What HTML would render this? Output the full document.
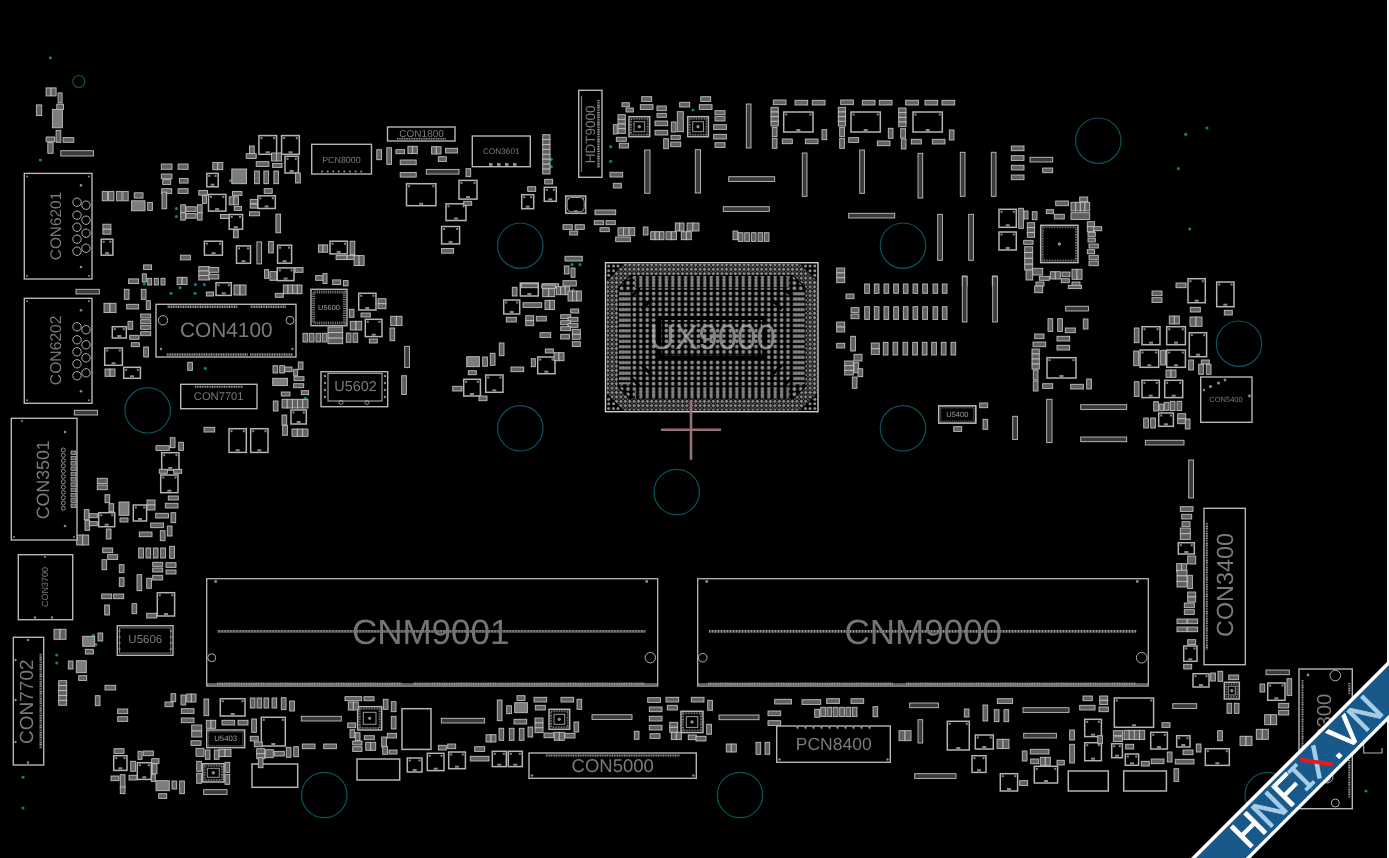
<!DOCTYPE html>
<html><head><meta charset="utf-8"><title>Boardview</title>
<style>
html,body{margin:0;padding:0;background:#000;overflow:hidden}
svg{display:block;font-family:"Liberation Sans",sans-serif;text-rendering:geometricPrecision}
</style></head>
<body>
<svg width="1389" height="858" viewBox="0 0 1389 858">
<rect width="1389" height="858" fill="#000"/>
<defs><filter id="nf" x="0" y="0" width="1389" height="858" filterUnits="userSpaceOnUse" color-interpolation-filters="sRGB"><feOffset dx="0" dy="0"/></filter></defs>
<g filter="url(#nf)">
<g fill="none" stroke="#0a545c" stroke-width="1.2">
<circle cx="78.8" cy="81.5" r="6"/>
<circle cx="520.3" cy="245.7" r="22.7"/>
<circle cx="903" cy="245.7" r="22.7"/>
<circle cx="1098.3" cy="140.7" r="22.7"/>
<circle cx="147.7" cy="410.3" r="22.7"/>
<circle cx="520.3" cy="428.3" r="22.7"/>
<circle cx="676.7" cy="492" r="22.7"/>
<circle cx="903" cy="428.3" r="22.7"/>
<circle cx="1239" cy="343.7" r="22.7"/>
<circle cx="324.3" cy="795" r="22.7"/>
<circle cx="740" cy="795" r="22.7"/>
<circle cx="1267.7" cy="795" r="22.7"/>
</g>
<g fill="#0b7f88">
<circle cx="50.4" cy="57.8" r="1.6"/>
<circle cx="40.4" cy="160" r="1.6"/>
<circle cx="230.5" cy="180.7" r="1.6"/>
<circle cx="176.4" cy="208.5" r="1.6"/>
<circle cx="176.4" cy="216.5" r="1.6"/>
<circle cx="144.3" cy="283.9" r="1.6"/>
<circle cx="195.4" cy="284.6" r="1.6"/>
<circle cx="204.4" cy="284.6" r="1.6"/>
<circle cx="551.3" cy="159.3" r="1.6"/>
<circle cx="551.3" cy="166.7" r="1.6"/>
<circle cx="610.7" cy="146.7" r="1.6"/>
<circle cx="610.7" cy="161.3" r="1.6"/>
<circle cx="572" cy="264.7" r="1.6"/>
<circle cx="580" cy="264.7" r="1.6"/>
<circle cx="693" cy="110" r="1.6"/>
<circle cx="1185.7" cy="134.3" r="1.6"/>
<circle cx="1207" cy="128" r="1.6"/>
<circle cx="1178.3" cy="168.7" r="1.6"/>
<circle cx="1189.7" cy="229" r="1.6"/>
<circle cx="205.3" cy="368.3" r="1.6"/>
<circle cx="171" cy="293.3" r="1.6"/>
<circle cx="180" cy="287.7" r="1.6"/>
<circle cx="195" cy="293.3" r="1.6"/>
<circle cx="305.3" cy="398.3" r="1.6"/>
<circle cx="573" cy="290" r="1.6"/>
<circle cx="93.3" cy="635.3" r="1.6"/>
<circle cx="96" cy="644.7" r="1.6"/>
<circle cx="56.7" cy="655" r="1.6"/>
<circle cx="56.7" cy="663" r="1.6"/>
<circle cx="23" cy="777.3" r="1.6"/>
<circle cx="23" cy="808" r="1.6"/>
<circle cx="1366" cy="791" r="1.6"/>
</g>
<g fill="#000" stroke="#b4b4b4" stroke-width="1.5">
<rect x="101.2" y="239.2" width="11.7" height="16"/>
<rect x="206.8" y="173.4" width="11.4" height="13.4"/>
<rect x="258.9" y="135.6" width="17.7" height="18.7"/>
<rect x="281.6" y="135.6" width="17.7" height="18.7"/>
<rect x="285" y="156.3" width="13.4" height="16.7"/>
<rect x="208.5" y="194.4" width="17.4" height="16.7"/>
<rect x="257.9" y="195.8" width="17.4" height="12.7"/>
<rect x="229.2" y="214.5" width="13.4" height="14.7"/>
<rect x="204.4" y="241.2" width="18" height="14"/>
<rect x="236.5" y="245.9" width="14" height="17.4"/>
<rect x="277.6" y="245.2" width="14" height="18"/>
<rect x="330" y="241.2" width="17.4" height="12.7"/>
<rect x="277.3" y="267.9" width="16.7" height="12.7"/>
<rect x="406.5" y="183.7" width="29.4" height="22"/>
<rect x="446" y="203.8" width="20" height="16.7"/>
<rect x="441.6" y="226.5" width="18" height="17.4"/>
<rect x="459" y="180.4" width="18" height="18.7"/>
<rect x="544.3" y="187.3" width="12" height="14"/>
<rect x="521.7" y="194.7" width="12" height="14"/>
<rect x="565.7" y="196" width="20" height="17.3"/>
<rect x="629" y="116.7" width="20.7" height="20"/>
<rect x="687.7" y="116.7" width="20.7" height="20"/>
<rect x="783.7" y="112" width="29.3" height="20"/>
<rect x="851" y="112" width="29.3" height="20"/>
<rect x="913" y="112" width="29.3" height="20"/>
<rect x="999" y="209.3" width="17.3" height="18"/>
<rect x="999" y="232" width="17.3" height="18"/>
<rect x="1040.7" y="225.3" width="37.3" height="37.3"/>
<rect x="112.3" y="326.7" width="14" height="11.3"/>
<rect x="104.7" y="348" width="17.7" height="17.3"/>
<rect x="123.7" y="367.3" width="16.7" height="11"/>
<rect x="229" y="428.7" width="17.3" height="23.7"/>
<rect x="250.7" y="428.7" width="17.3" height="23.7"/>
<rect x="216" y="282.7" width="15.3" height="12.7"/>
<rect x="358.7" y="293.3" width="17.3" height="16.7"/>
<rect x="365.3" y="319.3" width="16.7" height="17.3"/>
<rect x="291" y="410" width="15.3" height="14"/>
<rect x="161.7" y="452.7" width="17.3" height="17.3"/>
<rect x="160.7" y="475" width="17.3" height="17.7"/>
<rect x="133.3" y="505" width="13.3" height="16"/>
<rect x="98.7" y="512.7" width="16" height="14"/>
<rect x="520.3" y="283" width="18" height="13"/>
<rect x="503.7" y="300" width="16" height="14"/>
<rect x="537.7" y="357" width="17.3" height="16.7"/>
<rect x="485.7" y="375" width="17.3" height="17.3"/>
<rect x="463.7" y="379.3" width="16.7" height="16.7"/>
<rect x="1047" y="357.7" width="29" height="20.3"/>
<rect x="938.7" y="406" width="37" height="17"/>
<rect x="1188" y="278.7" width="17.3" height="24"/>
<rect x="1216.7" y="282" width="17.3" height="24.7"/>
<rect x="1142" y="326.7" width="18" height="18"/>
<rect x="1166.7" y="326.7" width="18.7" height="18"/>
<rect x="1189.3" y="332.7" width="17.3" height="24"/>
<rect x="1140" y="350" width="18.7" height="17.3"/>
<rect x="1166.7" y="350" width="18.7" height="17.3"/>
<rect x="1142" y="380.3" width="17.3" height="17.3"/>
<rect x="1164.7" y="380.3" width="18" height="17.3"/>
<rect x="1158.7" y="413" width="14.7" height="13.3"/>
<rect x="1178.3" y="542.7" width="16" height="11.3"/>
<rect x="157.3" y="592.7" width="17.3" height="23.3"/>
<rect x="220.3" y="698.7" width="24.7" height="17.3"/>
<rect x="202.7" y="763.7" width="21.3" height="18.3"/>
<rect x="261.3" y="717.3" width="24" height="28.7"/>
<rect x="252" y="764" width="45.7" height="23.3"/>
<rect x="357.7" y="706.7" width="24" height="23.3"/>
<rect x="402" y="708.7" width="29" height="40.7"/>
<rect x="357" y="759" width="42.7" height="21"/>
<rect x="407.3" y="758" width="14.7" height="14"/>
<rect x="427.3" y="753.3" width="16.7" height="17.3"/>
<rect x="448.7" y="752" width="16.7" height="16.7"/>
<rect x="113.7" y="755.7" width="13.3" height="14.7"/>
<rect x="137.3" y="762.7" width="14" height="16.7"/>
<rect x="549" y="709.3" width="20.7" height="20"/>
<rect x="492.3" y="751.3" width="14" height="15.3"/>
<rect x="508.3" y="751.3" width="14" height="15.3"/>
<rect x="681" y="711.3" width="22" height="21.3"/>
<rect x="947.3" y="721.3" width="22" height="28.7"/>
<rect x="975.3" y="735" width="18" height="14"/>
<rect x="972" y="755.7" width="14" height="16.7"/>
<rect x="1000.3" y="773.7" width="17.3" height="17.3"/>
<rect x="1034.3" y="766.3" width="23.3" height="16.7"/>
<rect x="1068.3" y="771" width="40" height="20"/>
<rect x="1084.7" y="719.3" width="16.7" height="17.3"/>
<rect x="1084.7" y="742.7" width="16.7" height="18"/>
<rect x="1114.3" y="698" width="39.3" height="29.3"/>
<rect x="1111.7" y="743.7" width="10.7" height="14"/>
<rect x="1125.3" y="754" width="13.3" height="11.3"/>
<rect x="1123.7" y="771" width="42.7" height="20"/>
<rect x="1150.7" y="732.3" width="16.7" height="16.7"/>
<rect x="1176.7" y="735.7" width="13.3" height="11.3"/>
<rect x="1205.3" y="748.7" width="24" height="16.7"/>
<rect x="1224.3" y="682.3" width="15" height="16.7"/>
<rect x="1193" y="673.7" width="16" height="13.3"/>
<rect x="1183.7" y="646" width="13.3" height="15.3"/>
<rect x="1267.7" y="683" width="17.3" height="17.3"/>
</g>
<g fill="#8a8a8a">
<rect x="105.1" y="252.2" width="4" height="2"/>
<rect x="102.7" y="240.7" width="2" height="2"/>
<rect x="109.4" y="240.7" width="2" height="2"/>
<rect x="210.5" y="183.7" width="4" height="2"/>
<rect x="208.3" y="174.9" width="2" height="2"/>
<rect x="214.6" y="174.9" width="2" height="2"/>
<rect x="265.7" y="151.3" width="4" height="2"/>
<rect x="260.4" y="137.1" width="2" height="2"/>
<rect x="273.1" y="137.1" width="2" height="2"/>
<rect x="288.5" y="151.3" width="4" height="2"/>
<rect x="283.1" y="137.1" width="2" height="2"/>
<rect x="295.8" y="137.1" width="2" height="2"/>
<rect x="289.6" y="170" width="4" height="2"/>
<rect x="286.5" y="157.8" width="2" height="2"/>
<rect x="294.8" y="157.8" width="2" height="2"/>
<rect x="215.1" y="208.1" width="4" height="2"/>
<rect x="210" y="195.9" width="2" height="2"/>
<rect x="222.3" y="195.9" width="2" height="2"/>
<rect x="264.6" y="205.5" width="4" height="2"/>
<rect x="259.4" y="197.3" width="2" height="2"/>
<rect x="271.8" y="197.3" width="2" height="2"/>
<rect x="233.8" y="226.2" width="4" height="2"/>
<rect x="230.7" y="216" width="2" height="2"/>
<rect x="239" y="216" width="2" height="2"/>
<rect x="211.5" y="252.2" width="4" height="2"/>
<rect x="205.9" y="242.7" width="2" height="2"/>
<rect x="219" y="242.7" width="2" height="2"/>
<rect x="241.5" y="260.2" width="4" height="2"/>
<rect x="238" y="247.4" width="2" height="2"/>
<rect x="247" y="247.4" width="2" height="2"/>
<rect x="282.6" y="260.2" width="4" height="2"/>
<rect x="279.1" y="246.7" width="2" height="2"/>
<rect x="288.1" y="246.7" width="2" height="2"/>
<rect x="336.7" y="250.9" width="4" height="2"/>
<rect x="331.5" y="242.7" width="2" height="2"/>
<rect x="343.9" y="242.7" width="2" height="2"/>
<rect x="283.6" y="277.6" width="4" height="2"/>
<rect x="278.8" y="269.4" width="2" height="2"/>
<rect x="290.5" y="269.4" width="2" height="2"/>
<rect x="419.2" y="202.8" width="4" height="2"/>
<rect x="408" y="185.2" width="2" height="2"/>
<rect x="432.4" y="185.2" width="2" height="2"/>
<rect x="454" y="217.5" width="4" height="2"/>
<rect x="447.5" y="205.3" width="2" height="2"/>
<rect x="462.5" y="205.3" width="2" height="2"/>
<rect x="448.6" y="240.9" width="4" height="2"/>
<rect x="443.1" y="228" width="2" height="2"/>
<rect x="456.2" y="228" width="2" height="2"/>
<rect x="466" y="196.1" width="4" height="2"/>
<rect x="460.5" y="181.9" width="2" height="2"/>
<rect x="473.5" y="181.9" width="2" height="2"/>
<rect x="548.3" y="198.3" width="4" height="2"/>
<rect x="545.8" y="188.8" width="2" height="2"/>
<rect x="552.8" y="188.8" width="2" height="2"/>
<rect x="525.7" y="205.7" width="4" height="2"/>
<rect x="523.2" y="196.2" width="2" height="2"/>
<rect x="530.2" y="196.2" width="2" height="2"/>
<rect x="573.7" y="210.3" width="4" height="2"/>
<rect x="567.2" y="197.5" width="2" height="2"/>
<rect x="582.2" y="197.5" width="2" height="2"/>
<rect x="796.3" y="129" width="4" height="2"/>
<rect x="785.2" y="113.5" width="2" height="2"/>
<rect x="809.5" y="113.5" width="2" height="2"/>
<rect x="863.7" y="129" width="4" height="2"/>
<rect x="852.5" y="113.5" width="2" height="2"/>
<rect x="876.8" y="113.5" width="2" height="2"/>
<rect x="925.7" y="129" width="4" height="2"/>
<rect x="914.5" y="113.5" width="2" height="2"/>
<rect x="938.8" y="113.5" width="2" height="2"/>
<rect x="1005.7" y="224.3" width="4" height="2"/>
<rect x="1000.5" y="210.8" width="2" height="2"/>
<rect x="1012.8" y="210.8" width="2" height="2"/>
<rect x="1005.7" y="247" width="4" height="2"/>
<rect x="1000.5" y="233.5" width="2" height="2"/>
<rect x="1012.8" y="233.5" width="2" height="2"/>
<rect x="117.3" y="335" width="4" height="2"/>
<rect x="113.8" y="328.2" width="2" height="2"/>
<rect x="122.8" y="328.2" width="2" height="2"/>
<rect x="111.5" y="362.3" width="4" height="2"/>
<rect x="106.2" y="349.5" width="2" height="2"/>
<rect x="118.8" y="349.5" width="2" height="2"/>
<rect x="130" y="375.3" width="4" height="2"/>
<rect x="125.2" y="368.8" width="2" height="2"/>
<rect x="136.8" y="368.8" width="2" height="2"/>
<rect x="235.7" y="449.3" width="4" height="2"/>
<rect x="230.5" y="430.2" width="2" height="2"/>
<rect x="242.8" y="430.2" width="2" height="2"/>
<rect x="257.3" y="449.3" width="4" height="2"/>
<rect x="252.2" y="430.2" width="2" height="2"/>
<rect x="264.5" y="430.2" width="2" height="2"/>
<rect x="221.7" y="292.3" width="4" height="2"/>
<rect x="217.5" y="284.2" width="2" height="2"/>
<rect x="227.8" y="284.2" width="2" height="2"/>
<rect x="365.3" y="307" width="4" height="2"/>
<rect x="360.2" y="294.8" width="2" height="2"/>
<rect x="372.5" y="294.8" width="2" height="2"/>
<rect x="371.7" y="333.7" width="4" height="2"/>
<rect x="366.8" y="320.8" width="2" height="2"/>
<rect x="378.5" y="320.8" width="2" height="2"/>
<rect x="296.7" y="421" width="4" height="2"/>
<rect x="292.5" y="411.5" width="2" height="2"/>
<rect x="302.8" y="411.5" width="2" height="2"/>
<rect x="168.3" y="467" width="4" height="2"/>
<rect x="163.2" y="454.2" width="2" height="2"/>
<rect x="175.5" y="454.2" width="2" height="2"/>
<rect x="167.3" y="489.7" width="4" height="2"/>
<rect x="162.2" y="476.5" width="2" height="2"/>
<rect x="174.5" y="476.5" width="2" height="2"/>
<rect x="138" y="518" width="4" height="2"/>
<rect x="134.8" y="506.5" width="2" height="2"/>
<rect x="143.2" y="506.5" width="2" height="2"/>
<rect x="104.7" y="523.7" width="4" height="2"/>
<rect x="100.2" y="514.2" width="2" height="2"/>
<rect x="111.2" y="514.2" width="2" height="2"/>
<rect x="527.3" y="293" width="4" height="2"/>
<rect x="521.8" y="284.5" width="2" height="2"/>
<rect x="534.8" y="284.5" width="2" height="2"/>
<rect x="509.7" y="311" width="4" height="2"/>
<rect x="505.2" y="301.5" width="2" height="2"/>
<rect x="516.2" y="301.5" width="2" height="2"/>
<rect x="544.3" y="370.7" width="4" height="2"/>
<rect x="539.2" y="358.5" width="2" height="2"/>
<rect x="551.5" y="358.5" width="2" height="2"/>
<rect x="492.3" y="389.3" width="4" height="2"/>
<rect x="487.2" y="376.5" width="2" height="2"/>
<rect x="499.5" y="376.5" width="2" height="2"/>
<rect x="470" y="393" width="4" height="2"/>
<rect x="465.2" y="380.8" width="2" height="2"/>
<rect x="476.8" y="380.8" width="2" height="2"/>
<rect x="1059.5" y="375" width="4" height="2"/>
<rect x="1048.5" y="359.2" width="2" height="2"/>
<rect x="1072.5" y="359.2" width="2" height="2"/>
<rect x="955.2" y="420" width="4" height="2"/>
<rect x="940.2" y="407.5" width="2" height="2"/>
<rect x="972.2" y="407.5" width="2" height="2"/>
<rect x="1194.7" y="299.7" width="4" height="2"/>
<rect x="1189.5" y="280.2" width="2" height="2"/>
<rect x="1201.8" y="280.2" width="2" height="2"/>
<rect x="1223.3" y="303.7" width="4" height="2"/>
<rect x="1218.2" y="283.5" width="2" height="2"/>
<rect x="1230.5" y="283.5" width="2" height="2"/>
<rect x="1149" y="341.7" width="4" height="2"/>
<rect x="1143.5" y="328.2" width="2" height="2"/>
<rect x="1156.5" y="328.2" width="2" height="2"/>
<rect x="1174" y="341.7" width="4" height="2"/>
<rect x="1168.2" y="328.2" width="2" height="2"/>
<rect x="1181.8" y="328.2" width="2" height="2"/>
<rect x="1196" y="353.7" width="4" height="2"/>
<rect x="1190.8" y="334.2" width="2" height="2"/>
<rect x="1203.2" y="334.2" width="2" height="2"/>
<rect x="1147.3" y="364.3" width="4" height="2"/>
<rect x="1141.5" y="351.5" width="2" height="2"/>
<rect x="1155.2" y="351.5" width="2" height="2"/>
<rect x="1174" y="364.3" width="4" height="2"/>
<rect x="1168.2" y="351.5" width="2" height="2"/>
<rect x="1181.8" y="351.5" width="2" height="2"/>
<rect x="1148.7" y="394.7" width="4" height="2"/>
<rect x="1143.5" y="381.8" width="2" height="2"/>
<rect x="1155.8" y="381.8" width="2" height="2"/>
<rect x="1171.7" y="394.7" width="4" height="2"/>
<rect x="1166.2" y="381.8" width="2" height="2"/>
<rect x="1179.2" y="381.8" width="2" height="2"/>
<rect x="1164" y="423.3" width="4" height="2"/>
<rect x="1160.2" y="414.5" width="2" height="2"/>
<rect x="1169.8" y="414.5" width="2" height="2"/>
<rect x="1184.3" y="551" width="4" height="2"/>
<rect x="1179.8" y="544.2" width="2" height="2"/>
<rect x="1190.8" y="544.2" width="2" height="2"/>
<rect x="164" y="613" width="4" height="2"/>
<rect x="158.8" y="594.2" width="2" height="2"/>
<rect x="171.2" y="594.2" width="2" height="2"/>
<rect x="230.7" y="713" width="4" height="2"/>
<rect x="221.8" y="700.2" width="2" height="2"/>
<rect x="241.5" y="700.2" width="2" height="2"/>
<rect x="271.3" y="743" width="4" height="2"/>
<rect x="262.8" y="718.8" width="2" height="2"/>
<rect x="281.8" y="718.8" width="2" height="2"/>
<rect x="412.7" y="769" width="4" height="2"/>
<rect x="408.8" y="759.5" width="2" height="2"/>
<rect x="418.5" y="759.5" width="2" height="2"/>
<rect x="433.7" y="767.7" width="4" height="2"/>
<rect x="428.8" y="754.8" width="2" height="2"/>
<rect x="440.5" y="754.8" width="2" height="2"/>
<rect x="455" y="765.7" width="4" height="2"/>
<rect x="450.2" y="753.5" width="2" height="2"/>
<rect x="461.8" y="753.5" width="2" height="2"/>
<rect x="118.3" y="767.3" width="4" height="2"/>
<rect x="115.2" y="757.2" width="2" height="2"/>
<rect x="123.5" y="757.2" width="2" height="2"/>
<rect x="142.3" y="776.3" width="4" height="2"/>
<rect x="138.8" y="764.2" width="2" height="2"/>
<rect x="147.8" y="764.2" width="2" height="2"/>
<rect x="497.3" y="763.7" width="4" height="2"/>
<rect x="493.8" y="752.8" width="2" height="2"/>
<rect x="502.8" y="752.8" width="2" height="2"/>
<rect x="513.3" y="763.7" width="4" height="2"/>
<rect x="509.8" y="752.8" width="2" height="2"/>
<rect x="518.8" y="752.8" width="2" height="2"/>
<rect x="956.3" y="747" width="4" height="2"/>
<rect x="948.8" y="722.8" width="2" height="2"/>
<rect x="965.8" y="722.8" width="2" height="2"/>
<rect x="982.3" y="746" width="4" height="2"/>
<rect x="976.8" y="736.5" width="2" height="2"/>
<rect x="989.8" y="736.5" width="2" height="2"/>
<rect x="977" y="769.3" width="4" height="2"/>
<rect x="973.5" y="757.2" width="2" height="2"/>
<rect x="982.5" y="757.2" width="2" height="2"/>
<rect x="1007" y="788" width="4" height="2"/>
<rect x="1001.8" y="775.2" width="2" height="2"/>
<rect x="1014.2" y="775.2" width="2" height="2"/>
<rect x="1044" y="780" width="4" height="2"/>
<rect x="1035.8" y="767.8" width="2" height="2"/>
<rect x="1054.2" y="767.8" width="2" height="2"/>
<rect x="1091" y="733.7" width="4" height="2"/>
<rect x="1086.2" y="720.8" width="2" height="2"/>
<rect x="1097.8" y="720.8" width="2" height="2"/>
<rect x="1091" y="757.7" width="4" height="2"/>
<rect x="1086.2" y="744.2" width="2" height="2"/>
<rect x="1097.8" y="744.2" width="2" height="2"/>
<rect x="1132" y="724.3" width="4" height="2"/>
<rect x="1115.8" y="699.5" width="2" height="2"/>
<rect x="1150.2" y="699.5" width="2" height="2"/>
<rect x="1115" y="754.7" width="4" height="2"/>
<rect x="1113.2" y="745.2" width="2" height="2"/>
<rect x="1118.8" y="745.2" width="2" height="2"/>
<rect x="1130" y="762.3" width="4" height="2"/>
<rect x="1126.8" y="755.5" width="2" height="2"/>
<rect x="1135.2" y="755.5" width="2" height="2"/>
<rect x="1157" y="746" width="4" height="2"/>
<rect x="1152.2" y="733.8" width="2" height="2"/>
<rect x="1163.8" y="733.8" width="2" height="2"/>
<rect x="1181.3" y="744" width="4" height="2"/>
<rect x="1178.2" y="737.2" width="2" height="2"/>
<rect x="1186.5" y="737.2" width="2" height="2"/>
<rect x="1215.3" y="762.3" width="4" height="2"/>
<rect x="1206.8" y="750.2" width="2" height="2"/>
<rect x="1225.8" y="750.2" width="2" height="2"/>
<rect x="1199" y="684" width="4" height="2"/>
<rect x="1194.5" y="675.2" width="2" height="2"/>
<rect x="1205.5" y="675.2" width="2" height="2"/>
<rect x="1188.3" y="658.3" width="4" height="2"/>
<rect x="1185.2" y="647.5" width="2" height="2"/>
<rect x="1193.5" y="647.5" width="2" height="2"/>
<rect x="1274.3" y="697.3" width="4" height="2"/>
<rect x="1269.2" y="684.5" width="2" height="2"/>
<rect x="1281.5" y="684.5" width="2" height="2"/>
</g>
<g fill="none" stroke="#9a9a9a" stroke-width="1">
<rect x="631" y="118.7" width="16.7" height="16" stroke-width="2" stroke="#767676" stroke-dasharray="0.9 0.7"/>
<rect x="634" y="121.7" width="10.7" height="10"/>
<circle cx="639.3" cy="126.7" r="1.2" fill="#888"/>
<rect x="689.7" y="118.7" width="16.7" height="16" stroke-width="2" stroke="#767676" stroke-dasharray="0.9 0.7"/>
<rect x="692.7" y="121.7" width="10.7" height="10"/>
<circle cx="698" cy="126.7" r="1.2" fill="#888"/>
<rect x="1042.7" y="227.3" width="33.3" height="33.3" stroke-width="2" stroke="#767676" stroke-dasharray="0.9 0.7"/>
<circle cx="1059.3" cy="244" r="1.2" fill="#888"/>
<rect x="204.7" y="765.7" width="17.3" height="14.3" stroke-width="2" stroke="#767676" stroke-dasharray="0.9 0.7"/>
<rect x="207.3" y="768.3" width="12" height="9"/>
<circle cx="213.3" cy="772.8" r="1.2" fill="#888"/>
<rect x="359.7" y="708.7" width="20" height="19.3" stroke-width="2" stroke="#767676" stroke-dasharray="0.9 0.7"/>
<rect x="363.3" y="712.3" width="12.7" height="12"/>
<circle cx="369.7" cy="718.3" r="1.2" fill="#888"/>
<rect x="551" y="711.3" width="16.7" height="16" stroke-width="2" stroke="#767676" stroke-dasharray="0.9 0.7"/>
<rect x="554" y="714.3" width="10.7" height="10"/>
<circle cx="559.3" cy="719.3" r="1.2" fill="#888"/>
<rect x="683" y="713.3" width="18" height="17.3" stroke-width="2" stroke="#767676" stroke-dasharray="0.9 0.7"/>
<rect x="686.3" y="716.6" width="11.5" height="10.8"/>
<circle cx="692" cy="722" r="1.2" fill="#888"/>
<rect x="1226.3" y="684.3" width="11" height="12.7" stroke-width="2" stroke="#767676" stroke-dasharray="0.9 0.7"/>
<rect x="1228.3" y="686.3" width="7" height="8.7"/>
<circle cx="1231.8" cy="690.7" r="1.2" fill="#888"/>
<rect x="567.2" y="197.5" width="17" height="14.3" rx="4"/>
</g>
<g fill="#606060" stroke="#c0c0c0" stroke-width="0.9">
<rect x="46.1" y="87.9" width="5" height="8"/>
<rect x="51.1" y="87.9" width="5" height="8"/>
<rect x="58.1" y="92.9" width="4" height="10"/>
<rect x="56.8" y="104.2" width="6.7" height="5.3"/>
<rect x="36.4" y="104.9" width="5.3" height="10.7"/>
<rect x="56.1" y="130.3" width="4.7" height="12"/>
<rect x="46.1" y="137" width="8.7" height="4.7"/>
<rect x="63.1" y="137.6" width="10.7" height="4.7"/>
<rect x="47.8" y="142.6" width="5.3" height="10.7"/>
<rect x="60.8" y="150.7" width="32.7" height="5.3" fill="#3a3a3a"/>
<rect x="102.2" y="191.4" width="5.3" height="9.4"/>
<rect x="108.6" y="191.4" width="5.3" height="9.4"/>
<rect x="116.6" y="191.4" width="5.3" height="9.4"/>
<rect x="122.9" y="191.4" width="5.3" height="9.4"/>
<rect x="134.3" y="192.8" width="8.7" height="5.3"/>
<rect x="147.7" y="202.4" width="4.7" height="8"/>
<rect x="102.9" y="224.2" width="8" height="5"/>
<rect x="102.9" y="229.2" width="8" height="5"/>
<rect x="161.3" y="164" width="10.7" height="5.3"/>
<rect x="178.1" y="164" width="10" height="5.3"/>
<rect x="161.3" y="174" width="10.7" height="4.7"/>
<rect x="162.7" y="179.7" width="8" height="4.7"/>
<rect x="179.4" y="178.4" width="8.7" height="4.7"/>
<rect x="161.7" y="188.7" width="10" height="4.7"/>
<rect x="178.1" y="188.7" width="10" height="4.7"/>
<rect x="162" y="192.1" width="4.7" height="16.7"/>
<rect x="212.8" y="162.4" width="5" height="7.3"/>
<rect x="217.8" y="162.4" width="5" height="7.3"/>
<rect x="249.5" y="146" width="4.7" height="8"/>
<rect x="246.2" y="153.7" width="10" height="4.7"/>
<rect x="271.6" y="153" width="5" height="8"/>
<rect x="276.6" y="153" width="5" height="8"/>
<rect x="256.2" y="161.7" width="12.7" height="4.7"/>
<rect x="272.6" y="163.4" width="9.4" height="4"/>
<rect x="254.6" y="171" width="4.7" height="12.7"/>
<rect x="263.9" y="171" width="4.7" height="12.7"/>
<rect x="273.9" y="171" width="4.7" height="12.7"/>
<rect x="295.6" y="173" width="4.7" height="10"/>
<rect x="198.8" y="190.4" width="8.7" height="4.7"/>
<rect x="202.4" y="195.4" width="4" height="8"/>
<rect x="232.5" y="191.4" width="9.4" height="4"/>
<rect x="229.2" y="196.8" width="4.7" height="8"/>
<rect x="233.8" y="196.8" width="4.7" height="8"/>
<rect x="234.2" y="206.4" width="7.3" height="4"/>
<rect x="264.2" y="188.7" width="8" height="4.7"/>
<rect x="250.2" y="199.4" width="7.3" height="4"/>
<rect x="250.2" y="204.1" width="7.3" height="4"/>
<rect x="249.5" y="211.8" width="10" height="4"/>
<rect x="180.7" y="204.8" width="4.7" height="8"/>
<rect x="180.7" y="212.8" width="4.7" height="7.3"/>
<rect x="186.1" y="206.8" width="10" height="4.7"/>
<rect x="186.1" y="213.5" width="10" height="4.7"/>
<rect x="197.4" y="204.8" width="4.7" height="8"/>
<rect x="197.4" y="212.8" width="4.7" height="7.3"/>
<rect x="220.5" y="214.5" width="8.7" height="4"/>
<rect x="233.5" y="229.8" width="4.7" height="8"/>
<rect x="275.9" y="214.1" width="4.7" height="18.7"/>
<rect x="256.9" y="241.9" width="4.7" height="22" fill="#3a3a3a"/>
<rect x="268.6" y="241.5" width="4.7" height="11.4"/>
<rect x="180.4" y="255.2" width="10" height="4.7"/>
<rect x="143.6" y="264.9" width="8" height="4.7"/>
<rect x="318.4" y="244.9" width="4.7" height="7.3"/>
<rect x="323" y="244.9" width="4.7" height="7.3"/>
<rect x="350.1" y="241.2" width="4.7" height="13.4"/>
<rect x="336.1" y="255.6" width="10.7" height="4"/>
<rect x="347.1" y="255.6" width="7.3" height="4"/>
<rect x="354.1" y="255.6" width="5" height="10"/>
<rect x="359.1" y="255.6" width="5" height="10"/>
<rect x="198.8" y="266.6" width="10.7" height="4.5"/>
<rect x="198.8" y="271" width="10.7" height="4.5"/>
<rect x="198.8" y="275.5" width="10.7" height="4.5"/>
<rect x="208.8" y="267.6" width="10" height="4.7"/>
<rect x="208.8" y="274.3" width="10" height="4.7"/>
<rect x="295" y="267.6" width="8" height="4.7"/>
<rect x="264.6" y="269.6" width="4" height="8.7"/>
<rect x="269.9" y="271.6" width="6.7" height="8.7"/>
<rect x="315.7" y="275.6" width="10" height="4.7"/>
<rect x="323" y="273.6" width="4" height="10"/>
<rect x="332.7" y="279.9" width="8" height="4.7"/>
<rect x="343.4" y="280.6" width="4.7" height="5.3"/>
<rect x="128.6" y="278.9" width="10" height="4.7"/>
<rect x="142.3" y="273.9" width="4" height="8"/>
<rect x="147.7" y="278.3" width="4" height="6.7"/>
<rect x="154.3" y="278.3" width="4" height="6.7"/>
<rect x="161" y="278.3" width="4" height="6.7"/>
<rect x="177.1" y="277.3" width="5" height="7.3"/>
<rect x="182.1" y="277.3" width="5" height="7.3"/>
<rect x="376.8" y="149.7" width="4.7" height="10"/>
<rect x="386.8" y="147.7" width="4.7" height="16.7"/>
<rect x="395.9" y="149.7" width="8.7" height="4"/>
<rect x="407.9" y="146.3" width="4.7" height="7.3"/>
<rect x="412.6" y="146.3" width="4.7" height="7.3"/>
<rect x="400.2" y="160" width="16" height="4.7"/>
<rect x="431.6" y="146.7" width="4.7" height="7.3"/>
<rect x="436.3" y="146.7" width="4.7" height="7.3"/>
<rect x="445.6" y="148.3" width="12" height="4.7"/>
<rect x="438.3" y="156.7" width="8" height="4.7"/>
<rect x="400.2" y="172.4" width="16" height="4.7"/>
<rect x="426.3" y="169.4" width="32.7" height="4.7" fill="#3a3a3a"/>
<rect x="441.6" y="248.5" width="12" height="4.7"/>
<rect x="542.7" y="134.7" width="7.3" height="4.9"/>
<rect x="542.7" y="139.6" width="7.3" height="4.9"/>
<rect x="542.7" y="144.5" width="7.3" height="4.9"/>
<rect x="542.7" y="149.4" width="7.3" height="4.9"/>
<rect x="542.7" y="154.3" width="7.3" height="4.9"/>
<rect x="542.7" y="159.2" width="7.3" height="4.9"/>
<rect x="542.7" y="164.2" width="7.3" height="4.9"/>
<rect x="542.7" y="169.1" width="7.3" height="4.9"/>
<rect x="466" y="168.7" width="4.7" height="8"/>
<rect x="463.7" y="201.3" width="8" height="4"/>
<rect x="544.7" y="179.3" width="8" height="4.7"/>
<rect x="527.7" y="186.7" width="8" height="4.7"/>
<rect x="610" y="172.3" width="12.7" height="4.7"/>
<rect x="613.3" y="183.3" width="8" height="4.7"/>
<rect x="595" y="210" width="20.7" height="4.7"/>
<rect x="594.3" y="220.7" width="9.3" height="4"/>
<rect x="606" y="220.7" width="9.3" height="4"/>
<rect x="600" y="227.7" width="9.3" height="4"/>
<rect x="563" y="224.7" width="9.3" height="4.7"/>
<rect x="575" y="224.7" width="9.3" height="4.7"/>
<rect x="569.7" y="231" width="8" height="4"/>
<rect x="565" y="256.3" width="17.3" height="4.7"/>
<rect x="564.3" y="266" width="4.7" height="8"/>
<rect x="571" y="268" width="4" height="9.3"/>
<rect x="521.3" y="283.7" width="16.7" height="4"/>
<rect x="542" y="283.7" width="16.7" height="4"/>
<rect x="563" y="280.7" width="13.3" height="5.3"/>
<rect x="622" y="102.7" width="7.3" height="4"/>
<rect x="626" y="108" width="7.3" height="4"/>
<rect x="641.7" y="96.7" width="10" height="4.7"/>
<rect x="640.3" y="104.7" width="12.7" height="4.7"/>
<rect x="657" y="106" width="9.3" height="4.7"/>
<rect x="657" y="113.3" width="9.3" height="4"/>
<rect x="618" y="114.7" width="7.3" height="4.7"/>
<rect x="618" y="119.3" width="7.3" height="4.7"/>
<rect x="618" y="124" width="7.3" height="4.7"/>
<rect x="618" y="128.7" width="7.3" height="4.7"/>
<rect x="613.3" y="124.7" width="4" height="9.3"/>
<rect x="655" y="121" width="12.7" height="4.7"/>
<rect x="655" y="130.3" width="12.7" height="4.7"/>
<rect x="616.3" y="137.3" width="10" height="4"/>
<rect x="619.3" y="143.3" width="9.3" height="4.7"/>
<rect x="679.7" y="102.3" width="10" height="4.7"/>
<rect x="700.7" y="96.7" width="10" height="4.7"/>
<rect x="699.3" y="104.7" width="12.7" height="4.7"/>
<rect x="677.3" y="111.7" width="6" height="20"/>
<rect x="671.3" y="122" width="4.7" height="10"/>
<rect x="715" y="110.7" width="10" height="4"/>
<rect x="715" y="116.3" width="10" height="4.7"/>
<rect x="713.7" y="124.7" width="12.7" height="4.7"/>
<rect x="713.7" y="134.3" width="12.7" height="4.7"/>
<rect x="715" y="142.7" width="10" height="4.7"/>
<rect x="671" y="135.3" width="9.3" height="4"/>
<rect x="670.7" y="142" width="10" height="4.7"/>
<rect x="663.7" y="138.7" width="4.7" height="10"/>
<rect x="644.7" y="150" width="5.3" height="43.3" fill="#3a3a3a"/>
<rect x="695.3" y="149.7" width="5.3" height="43.3" fill="#3a3a3a"/>
<rect x="746.3" y="104" width="4.7" height="44" fill="#3a3a3a"/>
<rect x="728.7" y="176.7" width="46" height="4.7" fill="#3a3a3a"/>
<rect x="723.3" y="206.7" width="46" height="4.7" fill="#3a3a3a"/>
<rect x="802.3" y="153" width="4.7" height="43.3" fill="#3a3a3a"/>
<rect x="859.7" y="150" width="4.7" height="43.3" fill="#3a3a3a"/>
<rect x="918" y="153.3" width="4.7" height="44.7" fill="#3a3a3a"/>
<rect x="848.7" y="213.3" width="46" height="4.7" fill="#3a3a3a"/>
<rect x="773.3" y="100" width="12.7" height="4.7"/>
<rect x="795" y="100.3" width="12.7" height="4.7"/>
<rect x="812.3" y="100.3" width="12.7" height="4.7"/>
<rect x="771" y="107.3" width="7.3" height="4.7"/>
<rect x="771" y="112" width="7.3" height="4.7"/>
<rect x="771" y="116.7" width="7.3" height="4.7"/>
<rect x="771" y="121.3" width="7.3" height="4.7"/>
<rect x="772.3" y="127.3" width="4.7" height="9.3"/>
<rect x="772.3" y="138.3" width="4.7" height="10"/>
<rect x="822" y="129.7" width="4.7" height="10"/>
<rect x="782.3" y="139" width="10" height="4.7"/>
<rect x="805.3" y="139" width="12.7" height="4.7"/>
<rect x="840.7" y="100" width="12.7" height="4.7"/>
<rect x="862.3" y="100.3" width="12.7" height="4.7"/>
<rect x="879.3" y="100.3" width="12.7" height="4.7"/>
<rect x="838.3" y="107.3" width="7.3" height="4.7"/>
<rect x="838.3" y="112" width="7.3" height="4.7"/>
<rect x="838.3" y="116.7" width="7.3" height="4.7"/>
<rect x="838.3" y="121.3" width="7.3" height="4.7"/>
<rect x="839.7" y="127.3" width="4.7" height="9.3"/>
<rect x="839.7" y="138.3" width="4.7" height="10"/>
<rect x="888.3" y="128.3" width="4.7" height="10"/>
<rect x="848.7" y="137.7" width="10" height="4.7"/>
<rect x="877.3" y="141" width="12.7" height="4.7"/>
<rect x="905.7" y="100.3" width="12.7" height="4.7"/>
<rect x="898.7" y="108" width="7.3" height="4.7"/>
<rect x="898.7" y="112.7" width="7.3" height="4.7"/>
<rect x="898.7" y="117.3" width="7.3" height="4.7"/>
<rect x="898.7" y="122" width="7.3" height="4.7"/>
<rect x="900.7" y="128.7" width="4.7" height="9.3"/>
<rect x="901.3" y="139" width="4.7" height="10"/>
<rect x="911.3" y="139.3" width="10" height="4.7"/>
<rect x="675.3" y="223" width="4.3" height="8"/>
<rect x="679.7" y="223" width="4.3" height="8"/>
<rect x="687" y="223" width="6" height="8"/>
<rect x="693" y="223" width="6" height="8"/>
<rect x="643.3" y="227" width="4.7" height="8"/>
<rect x="650.7" y="231.7" width="4.4" height="8"/>
<rect x="655.1" y="231.7" width="4.4" height="8"/>
<rect x="659.6" y="231.7" width="4.4" height="8"/>
<rect x="666" y="231.7" width="5.3" height="8"/>
<rect x="671.3" y="231.7" width="5.3" height="8"/>
<rect x="681.3" y="231.7" width="5" height="8"/>
<rect x="686.3" y="231.7" width="5" height="8"/>
<rect x="618" y="227.7" width="5.6" height="8"/>
<rect x="623.6" y="227.7" width="5.6" height="8"/>
<rect x="629.1" y="227.7" width="5.6" height="8"/>
<rect x="615.7" y="237" width="14.7" height="4.7"/>
<rect x="733" y="231" width="4.7" height="8.7"/>
<rect x="738.3" y="232.7" width="4.7" height="8.7"/>
<rect x="744.7" y="232.7" width="4.7" height="8.7"/>
<rect x="751.3" y="232.7" width="4.7" height="8.7"/>
<rect x="758" y="232.7" width="4.7" height="8.7"/>
<rect x="764.3" y="232.7" width="4.7" height="8.7"/>
<rect x="836.7" y="268" width="8" height="4.9"/>
<rect x="836.7" y="272.9" width="8" height="4.9"/>
<rect x="836.7" y="277.8" width="8" height="4.9"/>
<rect x="925" y="100.3" width="12.7" height="4.7"/>
<rect x="942" y="100.3" width="12.7" height="4.7"/>
<rect x="949.3" y="130" width="4.7" height="10"/>
<rect x="932.3" y="139.3" width="12.7" height="4.7"/>
<rect x="960.3" y="152.3" width="4.7" height="44" fill="#3a3a3a"/>
<rect x="991.3" y="152.3" width="4.7" height="44" fill="#3a3a3a"/>
<rect x="1011.3" y="146" width="12.7" height="4.7"/>
<rect x="1011.3" y="155.7" width="12.7" height="4.7"/>
<rect x="1011.3" y="165.3" width="12.7" height="4.7"/>
<rect x="1011.3" y="175" width="12.7" height="4.7"/>
<rect x="1030" y="157.3" width="22.7" height="4.7" fill="#3a3a3a"/>
<rect x="1042.7" y="168" width="10" height="4.7"/>
<rect x="937.7" y="214.3" width="4.7" height="46" fill="#3a3a3a"/>
<rect x="968.7" y="214.3" width="4.7" height="46" fill="#3a3a3a"/>
<rect x="1018.7" y="208.3" width="4.7" height="20"/>
<rect x="1024" y="211" width="4" height="8"/>
<rect x="1032.3" y="211.7" width="4.7" height="8"/>
<rect x="1027.3" y="222.7" width="7.3" height="4.9"/>
<rect x="1027.3" y="227.6" width="7.3" height="4.9"/>
<rect x="1027.3" y="232.4" width="7.3" height="4.9"/>
<rect x="1023.7" y="240.3" width="9.3" height="4"/>
<rect x="1024.7" y="246.7" width="8" height="5.8"/>
<rect x="1024.7" y="252.5" width="8" height="5.8"/>
<rect x="1024.7" y="258.3" width="8" height="5.8"/>
<rect x="1024.7" y="264.2" width="8" height="5.8"/>
<rect x="1055.7" y="201" width="12.7" height="4.7"/>
<rect x="1046.3" y="209.7" width="7.3" height="4"/>
<rect x="1054.3" y="214.3" width="10" height="4.7"/>
<rect x="1071" y="202.3" width="4.7" height="8.7"/>
<rect x="1075.7" y="202.3" width="4.7" height="8.7"/>
<rect x="1080.3" y="202.3" width="4.7" height="8.7"/>
<rect x="1085" y="202.3" width="4.7" height="8.7"/>
<rect x="1071" y="212.7" width="18.7" height="6.7"/>
<rect x="1079.7" y="197" width="8" height="4.7"/>
<rect x="1087.3" y="221.7" width="7.3" height="5"/>
<rect x="1087.3" y="226.7" width="7.3" height="5"/>
<rect x="1093.7" y="226.7" width="8" height="4"/>
<rect x="1088" y="232.3" width="7.3" height="4"/>
<rect x="1088" y="238" width="7.3" height="4"/>
<rect x="1089" y="244" width="9.3" height="4"/>
<rect x="1087.3" y="249.7" width="7.3" height="4"/>
<rect x="1089" y="255.3" width="9.3" height="4"/>
<rect x="1089" y="261" width="9.3" height="4.7"/>
<rect x="1026" y="270" width="6.7" height="10"/>
<rect x="1032.7" y="268.3" width="10" height="6.7"/>
<rect x="1039.3" y="276.3" width="10" height="4"/>
<rect x="1050.3" y="271.7" width="5" height="7.3"/>
<rect x="1055.3" y="271.7" width="5" height="7.3"/>
<rect x="1062" y="272" width="8" height="4.7"/>
<rect x="1072" y="269.3" width="5" height="10"/>
<rect x="1077" y="269.3" width="5" height="10"/>
<rect x="1061.3" y="278.7" width="8" height="4"/>
<rect x="1036" y="282" width="8" height="4"/>
<rect x="1072" y="282" width="8" height="4"/>
<rect x="962.3" y="276" width="4.7" height="10"/>
<rect x="992.3" y="276" width="4.7" height="10"/>
<rect x="76" y="289.3" width="23.3" height="4.7" fill="#3a3a3a"/>
<rect x="74.3" y="410.3" width="23.3" height="4.7" fill="#3a3a3a"/>
<rect x="104" y="303.3" width="6" height="9.3"/>
<rect x="110" y="303.3" width="6" height="9.3"/>
<rect x="126.7" y="304.3" width="12" height="4.7"/>
<rect x="124.3" y="289.3" width="4.7" height="10"/>
<rect x="141.3" y="289.3" width="4.7" height="10"/>
<rect x="146.3" y="300.7" width="4" height="8.7"/>
<rect x="140.7" y="314" width="10" height="4"/>
<rect x="140.7" y="319.7" width="10" height="4"/>
<rect x="140.7" y="325.3" width="10" height="4"/>
<rect x="140.7" y="331.7" width="10" height="4"/>
<rect x="128" y="321.3" width="4.7" height="8"/>
<rect x="129.7" y="335.3" width="9.3" height="4"/>
<rect x="131.3" y="342.7" width="8" height="4"/>
<rect x="143.7" y="347" width="4.7" height="10"/>
<rect x="105" y="369" width="5" height="7.3"/>
<rect x="110" y="369" width="5" height="7.3"/>
<rect x="187.7" y="362.3" width="4.7" height="8"/>
<rect x="204" y="427.3" width="10.7" height="4.7"/>
<rect x="206.3" y="292" width="7.3" height="4"/>
<rect x="234" y="285" width="6" height="10"/>
<rect x="240" y="285" width="6" height="10"/>
<rect x="275.3" y="293.3" width="8" height="4"/>
<rect x="283.3" y="285" width="4.7" height="8.7"/>
<rect x="288" y="285" width="4.7" height="8.7"/>
<rect x="292.7" y="285" width="4.7" height="8.7"/>
<rect x="297.3" y="285" width="4.7" height="8.7"/>
<rect x="349.3" y="309.3" width="4.7" height="8"/>
<rect x="378" y="298.7" width="8" height="5"/>
<rect x="378" y="303.7" width="8" height="5"/>
<rect x="361" y="313" width="9.3" height="4"/>
<rect x="350.3" y="321.3" width="5.7" height="8.7"/>
<rect x="356" y="321.3" width="5.7" height="8.7"/>
<rect x="369.3" y="339" width="8" height="4"/>
<rect x="390.7" y="316.3" width="5.7" height="9.3"/>
<rect x="396.3" y="316.3" width="5.7" height="9.3"/>
<rect x="390" y="328" width="4.7" height="12.7"/>
<rect x="303" y="333.3" width="4.7" height="8.7"/>
<rect x="309.3" y="333.3" width="4.7" height="8.7"/>
<rect x="316" y="333.3" width="4.7" height="8.7"/>
<rect x="322.3" y="333.3" width="4.7" height="8.7"/>
<rect x="328" y="327" width="14.7" height="5.6"/>
<rect x="328" y="332.6" width="14.7" height="5.6"/>
<rect x="328" y="338.1" width="14.7" height="5.6"/>
<rect x="346.3" y="333" width="4.7" height="9.3"/>
<rect x="353" y="333" width="4.7" height="9.3"/>
<rect x="404.7" y="346.3" width="4.7" height="21.3" fill="#3a3a3a"/>
<rect x="401.7" y="375.7" width="4.7" height="18.7"/>
<rect x="452.7" y="386.3" width="9.3" height="4.7"/>
<rect x="273" y="365.7" width="4.7" height="7.3"/>
<rect x="279.7" y="365.7" width="4.7" height="7.3"/>
<rect x="284.7" y="367" width="7.3" height="4.7"/>
<rect x="298.3" y="362" width="4.7" height="7.3"/>
<rect x="293.7" y="369.3" width="4" height="6.7"/>
<rect x="294" y="376.7" width="10" height="4"/>
<rect x="293.7" y="383.7" width="10" height="4"/>
<rect x="301.3" y="390.7" width="7.3" height="4"/>
<rect x="281.3" y="392" width="8.7" height="4"/>
<rect x="273.3" y="401" width="4.7" height="10"/>
<rect x="282" y="399.3" width="5.2" height="8.7"/>
<rect x="287.2" y="399.3" width="5.2" height="8.7"/>
<rect x="292.4" y="399.3" width="5.2" height="8.7"/>
<rect x="297.6" y="399.3" width="5.2" height="8.7"/>
<rect x="302.8" y="399.3" width="5.2" height="8.7"/>
<rect x="282" y="415" width="4.7" height="10"/>
<rect x="282.7" y="425.3" width="4.7" height="10"/>
<rect x="292" y="429" width="5.3" height="7.3"/>
<rect x="297.3" y="429" width="5.3" height="7.3"/>
<rect x="302.7" y="429" width="5.3" height="7.3"/>
<rect x="170.3" y="437.7" width="4.7" height="10"/>
<rect x="178.7" y="442.3" width="4.7" height="8"/>
<rect x="156" y="445.7" width="13.3" height="4.7"/>
<rect x="159.3" y="469.3" width="8" height="4"/>
<rect x="173.7" y="469.3" width="8" height="4"/>
<rect x="168.3" y="496" width="10" height="4"/>
<rect x="165.3" y="503.3" width="12.7" height="4.7"/>
<rect x="97.3" y="478.3" width="10" height="5.3"/>
<rect x="97.3" y="485" width="10" height="4.7"/>
<rect x="105" y="494.7" width="4.7" height="8"/>
<rect x="109" y="503.7" width="4.7" height="8"/>
<rect x="120" y="518" width="8" height="4"/>
<rect x="147" y="500" width="8" height="5"/>
<rect x="147" y="505" width="8" height="5"/>
<rect x="84.3" y="509.7" width="4.7" height="10"/>
<rect x="89.3" y="513.7" width="8" height="4"/>
<rect x="85" y="520.3" width="4.7" height="10"/>
<rect x="89.3" y="521.7" width="8" height="4"/>
<rect x="106.3" y="529" width="4.7" height="10"/>
<rect x="155.7" y="513.3" width="12.7" height="4.7"/>
<rect x="171" y="512.7" width="4.7" height="10"/>
<rect x="150.7" y="523" width="12.7" height="4.7"/>
<rect x="167.3" y="526" width="4.7" height="10"/>
<rect x="139.3" y="532" width="12.7" height="4.7"/>
<rect x="160.3" y="530.7" width="4.7" height="10"/>
<rect x="76.7" y="535" width="6" height="10"/>
<rect x="82.7" y="535" width="6" height="10"/>
<rect x="102.7" y="548" width="10" height="4.7"/>
<rect x="107.7" y="554.7" width="10" height="4.7"/>
<rect x="102" y="559.7" width="4.7" height="10"/>
<rect x="119.3" y="564.7" width="4.7" height="8"/>
<rect x="138.7" y="548" width="4.7" height="10"/>
<rect x="146" y="548" width="4.7" height="10"/>
<rect x="153.3" y="548" width="4.7" height="10"/>
<rect x="160.7" y="548" width="4.7" height="10"/>
<rect x="169.7" y="546.3" width="4.7" height="12"/>
<rect x="152.7" y="562.3" width="10" height="4"/>
<rect x="166" y="562.7" width="10" height="4.7"/>
<rect x="152.7" y="568" width="10" height="4"/>
<rect x="166" y="570" width="10" height="4"/>
<rect x="512.3" y="287.3" width="4.7" height="8.7"/>
<rect x="542.7" y="288.7" width="6" height="8"/>
<rect x="548.7" y="288.7" width="6" height="8"/>
<rect x="542" y="285" width="13.3" height="3.3"/>
<rect x="556.3" y="286.7" width="4.4" height="8"/>
<rect x="560.8" y="286.7" width="4.4" height="8"/>
<rect x="565.2" y="286.7" width="4.4" height="8"/>
<rect x="568" y="291" width="4.4" height="10"/>
<rect x="572.4" y="291" width="4.4" height="10"/>
<rect x="576.9" y="291" width="4.4" height="10"/>
<rect x="523" y="302.7" width="18.7" height="4.7"/>
<rect x="545" y="300.3" width="4.7" height="9.3"/>
<rect x="549.7" y="300.3" width="4.7" height="9.3"/>
<rect x="506.3" y="317.3" width="10" height="4.7"/>
<rect x="525.7" y="315.7" width="8" height="5"/>
<rect x="525.7" y="320.7" width="8" height="5"/>
<rect x="536.3" y="316.3" width="10" height="4.7"/>
<rect x="570.7" y="309" width="8" height="4"/>
<rect x="560.7" y="314.7" width="10" height="4"/>
<rect x="568" y="317.3" width="10" height="4"/>
<rect x="560.7" y="320.7" width="10" height="4"/>
<rect x="568" y="323.3" width="10" height="4"/>
<rect x="560.7" y="326.7" width="10" height="4"/>
<rect x="540" y="332.7" width="10.7" height="4.7"/>
<rect x="560.7" y="334.3" width="8.7" height="4.7"/>
<rect x="572.3" y="329.3" width="8" height="5"/>
<rect x="572.3" y="334.3" width="8" height="5"/>
<rect x="572.3" y="341.7" width="8" height="4.7"/>
<rect x="499.3" y="343" width="4.7" height="12.7"/>
<rect x="545.3" y="349" width="8" height="4"/>
<rect x="554" y="352.7" width="5" height="8"/>
<rect x="559" y="352.7" width="5" height="8"/>
<rect x="482.7" y="357" width="4.7" height="9.3"/>
<rect x="490.3" y="353.3" width="4.7" height="12"/>
<rect x="468.3" y="370.7" width="8" height="4"/>
<rect x="511" y="367" width="12.7" height="4.7"/>
<rect x="531.3" y="358.7" width="4" height="8"/>
<rect x="479" y="396" width="8" height="4.7"/>
<rect x="846" y="294" width="8" height="4.7"/>
<rect x="864.7" y="284" width="4.7" height="9.3"/>
<rect x="874.3" y="284" width="4.7" height="9.3"/>
<rect x="884" y="284" width="4.7" height="9.3"/>
<rect x="893.7" y="284" width="4.7" height="9.3"/>
<rect x="903.3" y="284" width="4.7" height="9.3"/>
<rect x="913" y="284" width="4.7" height="9.3"/>
<rect x="922.7" y="284" width="4.7" height="9.3"/>
<rect x="851" y="307.7" width="8" height="4.7"/>
<rect x="851" y="314" width="8" height="4.7"/>
<rect x="864.7" y="306.7" width="4.7" height="12.7"/>
<rect x="874.3" y="306.7" width="4.7" height="12.7"/>
<rect x="884" y="306.7" width="4.7" height="12.7"/>
<rect x="893.7" y="306.7" width="4.7" height="12.7"/>
<rect x="903.3" y="306.7" width="4.7" height="12.7"/>
<rect x="913" y="306.7" width="4.7" height="12.7"/>
<rect x="922.7" y="306.7" width="4.7" height="12.7"/>
<rect x="836.7" y="322" width="8" height="5"/>
<rect x="836.7" y="327" width="8" height="5"/>
<rect x="836.7" y="343.3" width="8" height="4.7"/>
<rect x="850.7" y="336.3" width="4.7" height="14.7"/>
<rect x="871.3" y="343" width="8" height="5.7"/>
<rect x="871.3" y="348.7" width="8" height="5.7"/>
<rect x="883.3" y="342.3" width="4.7" height="12.7"/>
<rect x="893" y="342.3" width="4.7" height="12.7"/>
<rect x="903" y="342.3" width="4.7" height="12.7"/>
<rect x="912.7" y="342.3" width="4.7" height="12.7"/>
<rect x="922.3" y="342.3" width="4.7" height="12.7"/>
<rect x="844.7" y="361" width="8.7" height="4.7"/>
<rect x="844.7" y="365.7" width="8.7" height="4.7"/>
<rect x="844.7" y="370.3" width="8.7" height="4.7"/>
<rect x="854" y="354.3" width="8" height="6.7"/>
<rect x="854" y="362.7" width="4.7" height="10"/>
<rect x="858" y="368.7" width="4.7" height="8"/>
<rect x="852.3" y="377" width="4.7" height="11.3"/>
<rect x="933" y="284" width="4.7" height="9.3"/>
<rect x="942.3" y="284" width="4.7" height="9.3"/>
<rect x="933" y="306.7" width="4.7" height="12.7"/>
<rect x="942.3" y="306.7" width="4.7" height="12.7"/>
<rect x="931.7" y="342.3" width="4.7" height="12.7"/>
<rect x="941.3" y="342.3" width="4.7" height="12.7"/>
<rect x="951" y="342.3" width="4.7" height="12.7"/>
<rect x="962.3" y="276.7" width="4.7" height="45.3" fill="#3a3a3a"/>
<rect x="992.7" y="276.7" width="4.7" height="45.3" fill="#3a3a3a"/>
<rect x="1034.7" y="286" width="8" height="6.7"/>
<rect x="1068.3" y="285.3" width="13.3" height="3.3"/>
<rect x="1065.7" y="306.3" width="22.7" height="4.7" fill="#3a3a3a"/>
<rect x="1048" y="318.7" width="4.7" height="12.7"/>
<rect x="1057.7" y="318.7" width="4.7" height="12.7"/>
<rect x="1065.3" y="328" width="10" height="4.7"/>
<rect x="1083.3" y="319" width="4.7" height="10"/>
<rect x="1034.7" y="334" width="9.3" height="4.7"/>
<rect x="1033" y="342" width="12.7" height="4.7"/>
<rect x="1057" y="336.3" width="12.7" height="4.7"/>
<rect x="1057" y="345.3" width="12.7" height="4.7"/>
<rect x="1032" y="349" width="7.3" height="5"/>
<rect x="1032" y="354" width="7.3" height="5"/>
<rect x="1032" y="359" width="7.3" height="5"/>
<rect x="1032" y="364" width="7.3" height="5"/>
<rect x="1033.3" y="370" width="4.7" height="10"/>
<rect x="1033.3" y="381" width="4.7" height="10"/>
<rect x="1042.7" y="383.7" width="10" height="4.7"/>
<rect x="1070.7" y="384.3" width="12.7" height="4.7"/>
<rect x="1086.7" y="379" width="4.7" height="10"/>
<rect x="979.7" y="403" width="8" height="4.7"/>
<rect x="953.7" y="426.7" width="8" height="4.7"/>
<rect x="983" y="419.3" width="4.7" height="10"/>
<rect x="1012.7" y="416.3" width="4.7" height="23.3" fill="#3a3a3a"/>
<rect x="1046.7" y="399.3" width="5.3" height="43.3" fill="#3a3a3a"/>
<rect x="1080.7" y="404.7" width="46" height="4.7" fill="#3a3a3a"/>
<rect x="1080.7" y="437" width="46" height="4.7" fill="#3a3a3a"/>
<rect x="1145.3" y="440.3" width="38.7" height="4.7" fill="#3a3a3a"/>
<rect x="1188.7" y="460" width="4.7" height="38" fill="#3a3a3a"/>
<rect x="1152" y="291" width="10" height="4.7"/>
<rect x="1152" y="297.7" width="10" height="4.7"/>
<rect x="1176" y="283" width="10" height="4.7"/>
<rect x="1190.3" y="307.3" width="10" height="4.7"/>
<rect x="1224.3" y="310.3" width="8" height="4.7"/>
<rect x="1169.3" y="316" width="5" height="8"/>
<rect x="1174.3" y="316" width="5" height="8"/>
<rect x="1190" y="317" width="6" height="9.3"/>
<rect x="1196" y="317" width="6" height="9.3"/>
<rect x="1134.3" y="328" width="4.7" height="14.7"/>
<rect x="1133.7" y="351" width="4.7" height="14.7"/>
<rect x="1160.7" y="350.3" width="4.7" height="14.7"/>
<rect x="1188.7" y="360" width="4.7" height="10"/>
<rect x="1201.3" y="360" width="8" height="4"/>
<rect x="1198.7" y="364.3" width="4.7" height="10"/>
<rect x="1206.3" y="364.3" width="4.7" height="10"/>
<rect x="1166" y="370" width="5" height="7.3"/>
<rect x="1171" y="370" width="5" height="7.3"/>
<rect x="1134.3" y="381.7" width="4.7" height="14.7"/>
<rect x="1153.7" y="401.7" width="4.7" height="9.3"/>
<rect x="1159.7" y="404" width="4" height="6.7"/>
<rect x="1164.3" y="402.3" width="4.7" height="8"/>
<rect x="1170.3" y="401.3" width="4.7" height="9.3"/>
<rect x="1177" y="401.3" width="4.7" height="9.3"/>
<rect x="1143.7" y="418" width="4.7" height="10"/>
<rect x="1150.7" y="418" width="4.7" height="10"/>
<rect x="1177.7" y="413.7" width="8" height="5"/>
<rect x="1177.7" y="418.7" width="8" height="5"/>
<rect x="1185.3" y="419" width="4.7" height="10"/>
<rect x="1180.3" y="506.7" width="12.7" height="4.7"/>
<rect x="1181.7" y="514.3" width="10" height="4.7"/>
<rect x="1182" y="521.7" width="8" height="4.7"/>
<rect x="1180.3" y="528" width="10" height="5.7"/>
<rect x="1180.3" y="533.7" width="10" height="5.7"/>
<rect x="1187.7" y="556" width="8" height="8"/>
<rect x="1176.7" y="563.7" width="5" height="8"/>
<rect x="1181.7" y="563.7" width="5" height="8"/>
<rect x="54" y="629.3" width="6" height="10"/>
<rect x="60" y="629.3" width="6" height="10"/>
<rect x="98" y="633" width="4.7" height="8"/>
<rect x="85.3" y="649.3" width="8" height="4.7"/>
<rect x="68.3" y="661" width="4.7" height="8"/>
<rect x="78.7" y="675.7" width="8" height="4.7"/>
<rect x="58.7" y="680.7" width="8" height="4.9"/>
<rect x="58.7" y="685.6" width="8" height="4.9"/>
<rect x="58.7" y="690.5" width="8" height="4.9"/>
<rect x="58.7" y="695.5" width="8" height="4.9"/>
<rect x="58.7" y="700.4" width="8" height="4.9"/>
<rect x="105" y="685.3" width="10.7" height="4.7"/>
<rect x="95.3" y="695.7" width="4.7" height="10"/>
<rect x="117.7" y="709" width="10" height="4.7"/>
<rect x="117.7" y="716.7" width="10" height="4.7"/>
<rect x="119.3" y="577.7" width="4.7" height="8.7"/>
<rect x="137" y="574.7" width="4.7" height="16"/>
<rect x="146.7" y="578.3" width="4.7" height="10"/>
<rect x="152.7" y="575.3" width="10" height="4.7"/>
<rect x="101.7" y="594" width="10" height="4.7"/>
<rect x="113.7" y="594" width="10" height="4.7"/>
<rect x="104.7" y="605" width="4.7" height="10"/>
<rect x="132" y="603.7" width="4.7" height="10"/>
<rect x="146.7" y="613.3" width="10" height="4.7"/>
<rect x="171" y="693.7" width="4.7" height="8"/>
<rect x="165" y="702" width="8" height="4.7"/>
<rect x="181" y="695" width="4.7" height="10"/>
<rect x="186.7" y="694" width="4.7" height="8"/>
<rect x="191.3" y="694" width="4.7" height="8"/>
<rect x="181.3" y="708.7" width="12.7" height="4.7"/>
<rect x="181.3" y="718" width="12.7" height="4.7"/>
<rect x="204" y="699" width="4.7" height="16.7"/>
<rect x="191.7" y="725" width="10" height="6"/>
<rect x="191.7" y="731" width="10" height="6"/>
<rect x="191" y="740.7" width="10" height="4.7"/>
<rect x="206.3" y="720.3" width="4.7" height="8"/>
<rect x="211" y="720.3" width="4.7" height="8"/>
<rect x="222" y="720.3" width="12.7" height="4.7"/>
<rect x="238" y="720.3" width="10" height="4.7"/>
<rect x="196" y="748.3" width="8" height="8"/>
<rect x="205.3" y="750" width="4.7" height="9.3"/>
<rect x="214.3" y="750" width="4.7" height="9.3"/>
<rect x="219" y="749.3" width="6" height="7.3"/>
<rect x="225" y="749.3" width="6" height="7.3"/>
<rect x="196.7" y="761.3" width="4.7" height="10"/>
<rect x="196.7" y="773.3" width="4.7" height="10"/>
<rect x="225" y="762.3" width="4.7" height="10"/>
<rect x="225" y="774.3" width="4.7" height="10"/>
<rect x="203.7" y="789.7" width="23.3" height="4.7" fill="#3a3a3a"/>
<rect x="250.3" y="698" width="4.7" height="10"/>
<rect x="257" y="698" width="4.7" height="10"/>
<rect x="264" y="698" width="4.7" height="10"/>
<rect x="272" y="698" width="4.7" height="10"/>
<rect x="281.3" y="697.7" width="4.7" height="12"/>
<rect x="289.7" y="701" width="4.7" height="10"/>
<rect x="251.7" y="719" width="4.7" height="13.3"/>
<rect x="250.3" y="736.3" width="8" height="4.7"/>
<rect x="254.3" y="742" width="8" height="4.7"/>
<rect x="256.7" y="748.7" width="8" height="5"/>
<rect x="256.7" y="753.7" width="8" height="5"/>
<rect x="265.3" y="749.7" width="8" height="8"/>
<rect x="274.3" y="751.3" width="10" height="4.7"/>
<rect x="286.3" y="747.3" width="4.7" height="10"/>
<rect x="293.7" y="746.7" width="4.7" height="10"/>
<rect x="258.3" y="757.7" width="4.7" height="10"/>
<rect x="301.3" y="716.3" width="40" height="4.7" fill="#3a3a3a"/>
<rect x="302.3" y="744" width="12.7" height="4.7"/>
<rect x="323.7" y="744" width="12.7" height="4.7"/>
<rect x="345" y="696.7" width="16.7" height="4"/>
<rect x="364" y="696.7" width="10" height="4"/>
<rect x="348.3" y="702" width="5" height="8"/>
<rect x="353.3" y="702" width="5" height="8"/>
<rect x="383.3" y="699.3" width="4.7" height="10"/>
<rect x="391.3" y="701.7" width="4.7" height="10"/>
<rect x="347.7" y="723" width="8" height="4.7"/>
<rect x="350" y="729.7" width="4.7" height="8"/>
<rect x="355.3" y="732.7" width="4.7" height="8"/>
<rect x="352.7" y="741" width="9.3" height="4"/>
<rect x="352.7" y="746.7" width="9.3" height="4.7"/>
<rect x="364.3" y="735.7" width="10" height="4"/>
<rect x="365.7" y="742.3" width="5" height="8"/>
<rect x="370.7" y="742.3" width="5" height="8"/>
<rect x="381.7" y="737" width="4.7" height="10"/>
<rect x="387.3" y="733.3" width="9.3" height="4.7"/>
<rect x="382.7" y="746.3" width="4.7" height="8"/>
<rect x="389" y="750" width="8" height="4"/>
<rect x="391.3" y="716.3" width="4.7" height="12.7"/>
<rect x="441.3" y="718.3" width="43.3" height="4.7" fill="#3a3a3a"/>
<rect x="438.3" y="745.3" width="8" height="4.7"/>
<rect x="447.7" y="744" width="8" height="4.7"/>
<rect x="114" y="748.7" width="10" height="4.7"/>
<rect x="130.7" y="761.3" width="4.7" height="10"/>
<rect x="138" y="751.3" width="4" height="8"/>
<rect x="143.3" y="751" width="10" height="4.7"/>
<rect x="151.7" y="758.7" width="7.3" height="4.7"/>
<rect x="152.3" y="763.7" width="4.7" height="10"/>
<rect x="151.3" y="774.7" width="4" height="6.7"/>
<rect x="111" y="776" width="8" height="4.7"/>
<rect x="120.3" y="774.7" width="4.7" height="13.3"/>
<rect x="120.3" y="787" width="4.7" height="6.7"/>
<rect x="129" y="775.3" width="8" height="4.7"/>
<rect x="172" y="781" width="4.7" height="8"/>
<rect x="179.7" y="781" width="4.7" height="12.7"/>
<rect x="158.7" y="793.7" width="8" height="4.7"/>
<rect x="497.3" y="700" width="4.7" height="20.7"/>
<rect x="506.7" y="705.7" width="4.7" height="8"/>
<rect x="517" y="695.7" width="8" height="4.7"/>
<rect x="514" y="719.3" width="12.7" height="4.7"/>
<rect x="534" y="697.3" width="12.7" height="4.7"/>
<rect x="535.3" y="705.3" width="10" height="4.7"/>
<rect x="561" y="697.3" width="12.7" height="4.7"/>
<rect x="577" y="699.3" width="4.7" height="10"/>
<rect x="535" y="718" width="8" height="4.9"/>
<rect x="535" y="722.9" width="8" height="4.9"/>
<rect x="535" y="727.8" width="8" height="4.9"/>
<rect x="574" y="722" width="4.7" height="10"/>
<rect x="544" y="733" width="10" height="4.7"/>
<rect x="554.3" y="732.3" width="5" height="8"/>
<rect x="559.3" y="732.3" width="5" height="8"/>
<rect x="565" y="733.3" width="10" height="4.7"/>
<rect x="528" y="727" width="4.7" height="10"/>
<rect x="499" y="728.3" width="4.7" height="12"/>
<rect x="509.3" y="728.3" width="4.7" height="12"/>
<rect x="519.3" y="728.3" width="4.7" height="12"/>
<rect x="486" y="734.7" width="5" height="7.3"/>
<rect x="491" y="734.7" width="5" height="7.3"/>
<rect x="474.7" y="746.7" width="10" height="4.7"/>
<rect x="470.3" y="756.3" width="18.7" height="4.7"/>
<rect x="592" y="714.7" width="40" height="4.7" fill="#3a3a3a"/>
<rect x="634.3" y="731.3" width="4.7" height="8"/>
<rect x="647.7" y="697.7" width="12.7" height="4.7"/>
<rect x="666" y="697.3" width="12.7" height="4.7"/>
<rect x="691.3" y="697.3" width="12.7" height="4.7"/>
<rect x="707.7" y="700.3" width="4.7" height="10"/>
<rect x="649.3" y="707" width="12.7" height="4.7"/>
<rect x="667.3" y="705.3" width="10" height="4.7"/>
<rect x="649.3" y="716.3" width="12.7" height="4.7"/>
<rect x="649.3" y="725.3" width="12.7" height="4.7"/>
<rect x="650" y="733.7" width="10" height="4.7"/>
<rect x="669.7" y="722.3" width="8" height="5"/>
<rect x="669.7" y="727.3" width="8" height="5"/>
<rect x="671.3" y="732.3" width="5" height="7.3"/>
<rect x="676.3" y="732.3" width="5" height="7.3"/>
<rect x="688.3" y="735" width="8" height="4.7"/>
<rect x="696" y="736.3" width="10" height="4.7"/>
<rect x="706.7" y="724.3" width="4.7" height="10"/>
<rect x="719" y="715" width="40" height="4.7" fill="#3a3a3a"/>
<rect x="726.3" y="744" width="5" height="8"/>
<rect x="731.3" y="744" width="5" height="8"/>
<rect x="756" y="742.3" width="4.7" height="12"/>
<rect x="765" y="742.3" width="4.7" height="12"/>
<rect x="768" y="711" width="12.7" height="4.7"/>
<rect x="768" y="720.7" width="12.7" height="4.7"/>
<rect x="774.7" y="699.3" width="16.7" height="4.7"/>
<rect x="802" y="699.7" width="18.7" height="4.7"/>
<rect x="826.7" y="698.7" width="12.7" height="4.7"/>
<rect x="851" y="698.7" width="12.7" height="4.7"/>
<rect x="814.7" y="709.3" width="4.7" height="8"/>
<rect x="820.7" y="707.3" width="4.7" height="9.3"/>
<rect x="827" y="707.3" width="4.7" height="9.3"/>
<rect x="833.3" y="707.3" width="4.7" height="9.3"/>
<rect x="839.7" y="707.3" width="4.7" height="9.3"/>
<rect x="846" y="707.3" width="4.7" height="9.3"/>
<rect x="852.3" y="707.3" width="4.7" height="9.3"/>
<rect x="873" y="706.7" width="4.7" height="10"/>
<rect x="899" y="730.7" width="6" height="10"/>
<rect x="905" y="730.7" width="6" height="10"/>
<rect x="918" y="719.7" width="4.7" height="23.3" fill="#3a3a3a"/>
<rect x="909.7" y="703" width="28.7" height="4.7" fill="#3a3a3a"/>
<rect x="914.7" y="773.7" width="41.3" height="4.7" fill="#3a3a3a"/>
<rect x="964.3" y="709" width="4.7" height="8"/>
<rect x="983" y="705" width="4.7" height="16"/>
<rect x="994.3" y="709.7" width="4.7" height="12"/>
<rect x="1004" y="709.7" width="4.7" height="12"/>
<rect x="997.3" y="698.7" width="15.3" height="4.7"/>
<rect x="997" y="739.3" width="6" height="9.3"/>
<rect x="1003" y="739.3" width="6" height="9.3"/>
<rect x="1019.7" y="780.7" width="8" height="4.7"/>
<rect x="1023" y="707.7" width="46" height="4.7" fill="#3a3a3a"/>
<rect x="1023.7" y="733.3" width="32.7" height="4.7" fill="#3a3a3a"/>
<rect x="1022.3" y="751" width="4.7" height="10"/>
<rect x="1030.3" y="749.3" width="18.7" height="4.7"/>
<rect x="1030.7" y="759" width="8" height="4.7"/>
<rect x="1040.3" y="757.3" width="5" height="8"/>
<rect x="1045.3" y="757.3" width="5" height="8"/>
<rect x="1057" y="760.3" width="7.3" height="4.7"/>
<rect x="1069.7" y="730" width="4.7" height="10"/>
<rect x="1069.7" y="744.3" width="4.7" height="18.7"/>
<rect x="1083" y="696" width="9.3" height="4.7"/>
<rect x="1079.7" y="705.3" width="15.3" height="4.7"/>
<rect x="1099.7" y="696" width="8" height="4.3"/>
<rect x="1099.7" y="700.3" width="8" height="4.3"/>
<rect x="1099" y="707" width="9.3" height="4.7"/>
<rect x="1097.7" y="735.7" width="4.7" height="8"/>
<rect x="1113.3" y="730.7" width="9.3" height="4.7"/>
<rect x="1113.3" y="736.7" width="9.3" height="4.7"/>
<rect x="1124" y="730.3" width="5.2" height="9.3"/>
<rect x="1129.2" y="730.3" width="5.2" height="9.3"/>
<rect x="1134.3" y="730.3" width="5.2" height="9.3"/>
<rect x="1139.5" y="730.3" width="5.2" height="9.3"/>
<rect x="1125.7" y="744.3" width="8" height="4.7"/>
<rect x="1141.3" y="761.3" width="8" height="4.7"/>
<rect x="1151.3" y="759" width="12.7" height="4.7"/>
<rect x="1162" y="722.7" width="8" height="4.7"/>
<rect x="1167.3" y="752" width="4.7" height="10"/>
<rect x="1183" y="750" width="10" height="4.7"/>
<rect x="1196.3" y="744" width="4.7" height="8"/>
<rect x="1175.3" y="759.3" width="18.7" height="4.7"/>
<rect x="1174" y="768.7" width="4.7" height="12.7"/>
<rect x="1172.7" y="703.7" width="24" height="4.7" fill="#3a3a3a"/>
<rect x="1217.7" y="730.7" width="4.7" height="10"/>
<rect x="1227" y="703.3" width="4.7" height="10"/>
<rect x="1234.3" y="703.3" width="4.7" height="10"/>
<rect x="1228.7" y="675" width="10" height="4.7"/>
<rect x="1210.7" y="673" width="4.7" height="8"/>
<rect x="1218" y="671.3" width="4.7" height="10"/>
<rect x="1183.7" y="664.3" width="8" height="4.7"/>
<rect x="1187.7" y="639.7" width="8" height="4.7"/>
<rect x="1177" y="619" width="10" height="4.7"/>
<rect x="1187.7" y="619" width="10" height="4.7"/>
<rect x="1177" y="627" width="10" height="4.7"/>
<rect x="1187.7" y="627" width="10" height="4.7"/>
<rect x="1184.3" y="603" width="10" height="4.7"/>
<rect x="1184.3" y="609.7" width="10" height="4.7"/>
<rect x="1187.7" y="592" width="8" height="5"/>
<rect x="1187.7" y="597" width="8" height="5"/>
<rect x="1177" y="570.3" width="10" height="5.6"/>
<rect x="1177" y="575.9" width="10" height="5.6"/>
<rect x="1177" y="581.4" width="10" height="5.6"/>
<rect x="1187.7" y="575.3" width="4.7" height="13.3"/>
<rect x="1240" y="736.3" width="6" height="9.3"/>
<rect x="1246" y="736.3" width="6" height="9.3"/>
<rect x="1256.3" y="729.3" width="6" height="10"/>
<rect x="1262.3" y="729.3" width="6" height="10"/>
<rect x="1264.7" y="714.7" width="6" height="10"/>
<rect x="1270.7" y="714.7" width="6" height="10"/>
<rect x="1266" y="670" width="23.3" height="4.7" fill="#3a3a3a"/>
<rect x="1260" y="684" width="4.7" height="8"/>
<rect x="1287" y="678.7" width="4.7" height="16.7"/>
<rect x="1278.7" y="703.3" width="10" height="4.7"/>
<rect x="1278.7" y="710.3" width="10" height="4.7"/>
</g>
<g fill="#7d7d7d" stroke="#c0c0c0" stroke-width="0.9">
<rect x="52.4" y="109.4" width="10" height="18.4"/>
<rect x="131.6" y="200.8" width="13.4" height="10"/>
<rect x="231.8" y="169" width="14.7" height="14.7"/>
<rect x="272.7" y="378.3" width="14.7" height="7.3"/>
<rect x="119" y="502" width="10" height="13.3"/>
<rect x="466.7" y="356.7" width="12.7" height="10"/>
<rect x="82.7" y="636.3" width="12" height="10"/>
<rect x="76.3" y="660.7" width="10" height="12"/>
<rect x="156" y="780.7" width="13.3" height="10"/>
<rect x="514.7" y="702.7" width="12.7" height="10"/>
</g>
<rect x="24.3" y="173.4" width="67.7" height="105.6" fill="#000" stroke="#b6b6b6" stroke-width="1.4" />
<text x="57.2" y="226" dy="-0.04em" font-size="15.4" fill="#7a7a7a" text-anchor="middle" dominant-baseline="central" transform="rotate(-90 57.2 226)">CON6201</text>
<circle cx="77" cy="202.2" r="4.2" fill="none" stroke="#b0b0b0" stroke-width="1"/>
<circle cx="77" cy="215.2" r="4.2" fill="none" stroke="#b0b0b0" stroke-width="1"/>
<circle cx="77" cy="227.2" r="4.2" fill="none" stroke="#b0b0b0" stroke-width="1"/>
<circle cx="77" cy="239.2" r="4.2" fill="none" stroke="#b0b0b0" stroke-width="1"/>
<circle cx="77" cy="251.2" r="4.2" fill="none" stroke="#b0b0b0" stroke-width="1"/>
<circle cx="86" cy="205.2" r="4.2" fill="none" stroke="#b0b0b0" stroke-width="1"/>
<circle cx="86" cy="220.2" r="4.2" fill="none" stroke="#b0b0b0" stroke-width="1"/>
<circle cx="86" cy="233.2" r="4.2" fill="none" stroke="#b0b0b0" stroke-width="1"/>
<circle cx="86" cy="248.2" r="4.2" fill="none" stroke="#b0b0b0" stroke-width="1"/>
<circle cx="81" cy="185.4" r="1.3" fill="#8a8a8a"/>
<circle cx="81" cy="267" r="1.3" fill="#8a8a8a"/>
<circle cx="27" cy="176.4" r="1" fill="#8a8a8a"/>
<circle cx="89" cy="176.4" r="1" fill="#8a8a8a"/>
<circle cx="27" cy="276" r="1" fill="#8a8a8a"/>
<circle cx="89" cy="276" r="1" fill="#8a8a8a"/>
<rect x="24.3" y="298.3" width="67.7" height="105" fill="#000" stroke="#b6b6b6" stroke-width="1.4" />
<text x="57.2" y="350.3" dy="-0.04em" font-size="15.7" fill="#7a7a7a" text-anchor="middle" dominant-baseline="central" transform="rotate(-90 57.2 350.3)">CON6202</text>
<circle cx="77" cy="326.8" r="4.2" fill="none" stroke="#b0b0b0" stroke-width="1"/>
<circle cx="77" cy="339.8" r="4.2" fill="none" stroke="#b0b0b0" stroke-width="1"/>
<circle cx="77" cy="351.8" r="4.2" fill="none" stroke="#b0b0b0" stroke-width="1"/>
<circle cx="77" cy="363.8" r="4.2" fill="none" stroke="#b0b0b0" stroke-width="1"/>
<circle cx="77" cy="375.8" r="4.2" fill="none" stroke="#b0b0b0" stroke-width="1"/>
<circle cx="86" cy="329.8" r="4.2" fill="none" stroke="#b0b0b0" stroke-width="1"/>
<circle cx="86" cy="344.8" r="4.2" fill="none" stroke="#b0b0b0" stroke-width="1"/>
<circle cx="86" cy="357.8" r="4.2" fill="none" stroke="#b0b0b0" stroke-width="1"/>
<circle cx="86" cy="372.8" r="4.2" fill="none" stroke="#b0b0b0" stroke-width="1"/>
<circle cx="81" cy="310.3" r="1.3" fill="#8a8a8a"/>
<circle cx="81" cy="391.3" r="1.3" fill="#8a8a8a"/>
<circle cx="27" cy="301.3" r="1" fill="#8a8a8a"/>
<circle cx="89" cy="301.3" r="1" fill="#8a8a8a"/>
<circle cx="27" cy="400.3" r="1" fill="#8a8a8a"/>
<circle cx="89" cy="400.3" r="1" fill="#8a8a8a"/>
<rect x="11.3" y="418.3" width="65.7" height="121.7" fill="#000" stroke="#b6b6b6" stroke-width="1.4" />
<text x="44" y="479.8" dy="-0.04em" font-size="17.8" fill="#7a7a7a" text-anchor="middle" dominant-baseline="central" transform="rotate(-90 44 479.8)">CON3501</text>
<circle cx="63.3" cy="450" r="2" fill="none" stroke="#b0b0b0" stroke-width="0.8"/>
<circle cx="63.3" cy="455.3" r="2" fill="none" stroke="#b0b0b0" stroke-width="0.8"/>
<circle cx="63.3" cy="460.6" r="2" fill="none" stroke="#b0b0b0" stroke-width="0.8"/>
<circle cx="63.3" cy="465.9" r="2" fill="none" stroke="#b0b0b0" stroke-width="0.8"/>
<circle cx="63.3" cy="471.2" r="2" fill="none" stroke="#b0b0b0" stroke-width="0.8"/>
<circle cx="63.3" cy="476.5" r="2" fill="none" stroke="#b0b0b0" stroke-width="0.8"/>
<circle cx="63.3" cy="481.8" r="2" fill="none" stroke="#b0b0b0" stroke-width="0.8"/>
<circle cx="63.3" cy="487.1" r="2" fill="none" stroke="#b0b0b0" stroke-width="0.8"/>
<circle cx="63.3" cy="492.4" r="2" fill="none" stroke="#b0b0b0" stroke-width="0.8"/>
<circle cx="63.3" cy="497.7" r="2" fill="none" stroke="#b0b0b0" stroke-width="0.8"/>
<circle cx="63.3" cy="503" r="2" fill="none" stroke="#b0b0b0" stroke-width="0.8"/>
<circle cx="63.3" cy="508.3" r="2" fill="none" stroke="#b0b0b0" stroke-width="0.8"/>
<rect x="71" y="451" width="5" height="3.6" fill="#555" stroke="#bbb" stroke-width="0.7"/>
<rect x="71" y="456.3" width="5" height="3.6" fill="#555" stroke="#bbb" stroke-width="0.7"/>
<rect x="71" y="461.6" width="5" height="3.6" fill="#555" stroke="#bbb" stroke-width="0.7"/>
<rect x="71" y="466.9" width="5" height="3.6" fill="#555" stroke="#bbb" stroke-width="0.7"/>
<rect x="71" y="472.2" width="5" height="3.6" fill="#555" stroke="#bbb" stroke-width="0.7"/>
<rect x="71" y="477.5" width="5" height="3.6" fill="#555" stroke="#bbb" stroke-width="0.7"/>
<rect x="71" y="482.8" width="5" height="3.6" fill="#555" stroke="#bbb" stroke-width="0.7"/>
<rect x="71" y="488.1" width="5" height="3.6" fill="#555" stroke="#bbb" stroke-width="0.7"/>
<rect x="71" y="493.4" width="5" height="3.6" fill="#555" stroke="#bbb" stroke-width="0.7"/>
<rect x="71" y="498.7" width="5" height="3.6" fill="#555" stroke="#bbb" stroke-width="0.7"/>
<rect x="71" y="504" width="5" height="3.6" fill="#555" stroke="#bbb" stroke-width="0.7"/>
<circle cx="65" cy="432" r="1.3" fill="#8a8a8a"/>
<circle cx="65" cy="526" r="1.3" fill="#8a8a8a"/>
<circle cx="22" cy="421" r="1" fill="#8a8a8a"/>
<circle cx="14" cy="537" r="1" fill="#8a8a8a"/>
<circle cx="74" cy="537" r="1" fill="#8a8a8a"/>
<rect x="18.3" y="554.7" width="54.4" height="65" fill="#000" stroke="#b6b6b6" stroke-width="1.4" />
<text x="45" y="587" dy="-0.04em" font-size="9" fill="#7a7a7a" text-anchor="middle" dominant-baseline="central" transform="rotate(-90 45 587)">CON3700</text>
<circle cx="35" cy="617.5" r="1.2" fill="#8a8a8a"/>
<circle cx="52" cy="617.5" r="1.2" fill="#8a8a8a"/>
<circle cx="45" cy="557" r="1" fill="#8a8a8a"/>
<rect x="13.3" y="637.3" width="30.4" height="127.7" fill="#000" stroke="#b6b6b6" stroke-width="1.4" />
<text x="28.3" y="701.7" dy="-0.04em" font-size="19" fill="#7a7a7a" text-anchor="middle" dominant-baseline="central" transform="rotate(-90 28.3 701.7)">CON7702</text>
<line x1="40.7" y1="653.7" x2="40.7" y2="748.7" stroke="#989898" stroke-width="2.4" stroke-dasharray="1.1 0.6"/>
<circle cx="15.5" cy="660" r="1.2" fill="#8a8a8a"/>
<circle cx="15.5" cy="700" r="1.2" fill="#8a8a8a"/>
<circle cx="15.5" cy="742" r="1.2" fill="#8a8a8a"/>
<circle cx="28" cy="640" r="1.2" fill="#8a8a8a"/>
<circle cx="28" cy="762.5" r="1.2" fill="#8a8a8a"/>
<rect x="156" y="304.3" width="140" height="52.7" fill="#000" stroke="#b6b6b6" stroke-width="1.4" />
<text x="226.3" y="331.5" dy="-0.04em" font-size="20.8" fill="#7a7a7a" text-anchor="middle" dominant-baseline="central">CON4100</text>
<circle cx="163" cy="320.3" r="4.7" fill="none" stroke="#b0b0b0" stroke-width="1"/>
<circle cx="290" cy="320.3" r="4" fill="none" stroke="#b0b0b0" stroke-width="1"/>
<line x1="167.7" y1="306.7" x2="237.7" y2="306.7" stroke="#989898" stroke-width="2.6" stroke-dasharray="1.1 0.6"/>
<line x1="250.7" y1="306.7" x2="286" y2="306.7" stroke="#989898" stroke-width="2.6" stroke-dasharray="1.1 0.6"/>
<line x1="166.7" y1="354.5" x2="248.3" y2="354.5" stroke="#989898" stroke-width="2.6" stroke-dasharray="1.1 0.6"/>
<line x1="250" y1="354.5" x2="293" y2="354.5" stroke="#989898" stroke-width="2.6" stroke-dasharray="1.1 0.6"/>
<circle cx="161" cy="349" r="1.2" fill="#8a8a8a"/>
<circle cx="292.5" cy="349" r="1.2" fill="#8a8a8a"/>
<rect x="180.7" y="384.3" width="76.3" height="24.4" fill="#000" stroke="#b6b6b6" stroke-width="1.4" />
<text x="218.7" y="397.3" dy="-0.04em" font-size="11.2" fill="#7a7a7a" text-anchor="middle" dominant-baseline="central">CON7701</text>
<line x1="195" y1="386.8" x2="243" y2="386.8" stroke="#989898" stroke-width="2" stroke-dasharray="1.1 0.6"/>
<rect x="311" y="289.3" width="36" height="36.4" fill="#000" stroke="#b6b6b6" stroke-width="1.4" />
<rect x="313.6" y="291.9" width="30.8" height="31.2" fill="none" stroke="#777" stroke-width="3" stroke-dasharray="1 0.8"/>
<text x="329" y="307.5" dy="-0.04em" font-size="7.4" fill="#a0a0a0" text-anchor="middle" dominant-baseline="central">U5600</text>
<rect x="321" y="371.7" width="66.7" height="35" fill="#000" stroke="#b6b6b6" stroke-width="1.4" />
<rect x="328" y="373.3" width="54" height="27.7" fill="#000" stroke="#b6b6b6" stroke-width="1" />
<text x="355.5" y="387.7" dy="-0.04em" font-size="14.4" fill="#7a7a7a" text-anchor="middle" dominant-baseline="central">U5602</text>
<circle cx="325" cy="376" r="1.2" fill="#8a8a8a"/>
<circle cx="385" cy="376" r="1.2" fill="#8a8a8a"/>
<circle cx="325" cy="383" r="1.2" fill="#8a8a8a"/>
<circle cx="385" cy="383" r="1.2" fill="#8a8a8a"/>
<circle cx="325" cy="390" r="1.2" fill="#8a8a8a"/>
<circle cx="385" cy="390" r="1.2" fill="#8a8a8a"/>
<circle cx="325" cy="397" r="1.2" fill="#8a8a8a"/>
<circle cx="385" cy="397" r="1.2" fill="#8a8a8a"/>
<circle cx="341" cy="402.5" r="2" fill="none" stroke="#b0b0b0" stroke-width="0.8"/>
<circle cx="367" cy="402.5" r="2" fill="none" stroke="#b0b0b0" stroke-width="0.8"/>
<rect x="311.7" y="144.3" width="59.8" height="29.7" fill="#000" stroke="#b6b6b6" stroke-width="1.4" />
<text x="341.4" y="159.9" dy="-0.04em" font-size="8.9" fill="#7a7a7a" text-anchor="middle" dominant-baseline="central">PCN8000</text>
<circle cx="322" cy="171.5" r="1.1" fill="#8a8a8a"/>
<circle cx="327.6" cy="171.5" r="1.1" fill="#8a8a8a"/>
<circle cx="333.2" cy="171.5" r="1.1" fill="#8a8a8a"/>
<circle cx="338.8" cy="171.5" r="1.1" fill="#8a8a8a"/>
<circle cx="344.4" cy="171.5" r="1.1" fill="#8a8a8a"/>
<circle cx="350" cy="171.5" r="1.1" fill="#8a8a8a"/>
<circle cx="355.6" cy="171.5" r="1.1" fill="#8a8a8a"/>
<circle cx="361.2" cy="171.5" r="1.1" fill="#8a8a8a"/>
<rect x="387.5" y="127" width="67.5" height="14" fill="#000" stroke="#b6b6b6" stroke-width="1.4" />
<text x="421.6" y="135.2" dy="-0.04em" font-size="10" fill="#7a7a7a" text-anchor="middle" dominant-baseline="central">CON1800</text>
<line x1="397" y1="138.7" x2="446" y2="138.7" stroke="#989898" stroke-width="1.6" stroke-dasharray="1.1 0.6"/>
<rect x="472.3" y="136" width="58" height="30.7" fill="#000" stroke="#b6b6b6" stroke-width="1.4" />
<text x="501.3" y="152.3" dy="-0.04em" font-size="8.2" fill="#7a7a7a" text-anchor="middle" dominant-baseline="central">CON3601</text>
<rect x="489" y="163" width="3.5" height="3" fill="#8a8a8a"/>
<rect x="497" y="163" width="3.5" height="3" fill="#8a8a8a"/>
<rect x="505" y="163" width="3.5" height="3" fill="#8a8a8a"/>
<rect x="513" y="163" width="3.5" height="3" fill="#8a8a8a"/>
<rect x="578.7" y="90.3" width="23.3" height="87" fill="#000" stroke="#b6b6b6" stroke-width="1.4" />
<text x="590.7" y="134.3" dy="-0.04em" font-size="13.5" fill="#7a7a7a" text-anchor="middle" dominant-baseline="central" transform="rotate(-90 590.7 134.3)">HDT9000</text>
<line x1="598.5" y1="100" x2="598.5" y2="168" stroke="#989898" stroke-width="2.4" stroke-dasharray="1.1 0.6"/>
<line x1="581.5" y1="96" x2="581.5" y2="172" stroke="#777" stroke-width="1.2" stroke-dasharray="1 0"/>
<rect x="938.7" y="406" width="37" height="17" fill="#000" stroke="#b6b6b6" stroke-width="1.4" />
<rect x="940.5" y="407.8" width="33.4" height="13.4" fill="none" stroke="#666" stroke-width="1.6" stroke-dasharray="1 1"/>
<text x="957.3" y="414.8" dy="-0.04em" font-size="7.5" fill="#a0a0a0" text-anchor="middle" dominant-baseline="central">U5400</text>
<rect x="1200.7" y="377" width="51.3" height="45.3" fill="#000" stroke="#b6b6b6" stroke-width="1.4" />
<text x="1226" y="400.2" dy="-0.04em" font-size="7.5" fill="#7a7a7a" text-anchor="middle" dominant-baseline="central">CON5400</text>
<circle cx="1210.5" cy="386.5" r="1.6" fill="#8a8a8a"/>
<circle cx="1218.5" cy="383" r="1.6" fill="#8a8a8a"/>
<circle cx="1225" cy="380" r="1.4" fill="#8a8a8a"/>
<circle cx="1204" cy="390" r="1.2" fill="#8a8a8a"/>
<circle cx="1249.5" cy="396" r="1.4" fill="#8a8a8a"/>
<rect x="1204" y="508.3" width="41.3" height="156.4" fill="#000" stroke="#b6b6b6" stroke-width="1.4" />
<text x="1226" y="585" dy="-0.04em" font-size="23.4" fill="#7a7a7a" text-anchor="middle" dominant-baseline="central" transform="rotate(-90 1226 585)">CON3400</text>
<line x1="1206.8" y1="522.7" x2="1206.8" y2="650" stroke="#989898" stroke-width="2" stroke-dasharray="1.1 0.6"/>
<rect x="1299" y="669" width="53.3" height="139.7" fill="#000" stroke="#b6b6b6" stroke-width="1.4" />
<text x="1326" y="738.8" dy="-0.04em" font-size="20.3" fill="#7a7a7a" text-anchor="middle" dominant-baseline="central" transform="rotate(-90 1326 738.8)">CON6300</text>
<circle cx="1335.3" cy="675.5" r="5.3" fill="none" stroke="#b0b0b0" stroke-width="1"/>
<circle cx="1335.3" cy="803" r="4" fill="none" stroke="#b0b0b0" stroke-width="1"/>
<circle cx="1327" cy="777" r="6" fill="none" stroke="#b0b0b0" stroke-width="1"/>
<line x1="1302.5" y1="680" x2="1302.5" y2="800" stroke="#989898" stroke-width="2" stroke-dasharray="1.1 0.6"/>
<line x1="1349.3" y1="683" x2="1349.3" y2="695" stroke="#989898" stroke-width="2" stroke-dasharray="1.1 0.6"/>
<line x1="1349.3" y1="760" x2="1349.3" y2="798" stroke="#989898" stroke-width="2" stroke-dasharray="1.1 0.6"/>
<circle cx="1308" cy="675" r="1.4" fill="#8a8a8a"/>
<path d="M1363.7 740 V753 H1382 V748" fill="none" stroke="#b6b6b6" stroke-width="1.1"/>
<rect x="117.3" y="625.7" width="55.7" height="29.6" fill="#000" stroke="#b6b6b6" stroke-width="1.4" />
<rect x="119.5" y="627.9" width="51.3" height="25.2" fill="none" stroke="#777" stroke-width="1"/>
<text x="145.3" y="640.5" dy="-0.04em" font-size="11.5" fill="#7a7a7a" text-anchor="middle" dominant-baseline="central">U5606</text>
<circle cx="119.5" cy="631" r="1.1" fill="#8a8a8a"/>
<circle cx="170.8" cy="631" r="1.1" fill="#8a8a8a"/>
<circle cx="119.5" cy="637" r="1.1" fill="#8a8a8a"/>
<circle cx="170.8" cy="637" r="1.1" fill="#8a8a8a"/>
<circle cx="119.5" cy="643" r="1.1" fill="#8a8a8a"/>
<circle cx="170.8" cy="643" r="1.1" fill="#8a8a8a"/>
<circle cx="119.5" cy="649" r="1.1" fill="#8a8a8a"/>
<circle cx="170.8" cy="649" r="1.1" fill="#8a8a8a"/>
<rect x="206.7" y="730" width="38" height="17.7" fill="#000" stroke="#b6b6b6" stroke-width="1.4" />
<rect x="208.5" y="731.8" width="34.4" height="14.1" fill="none" stroke="#666" stroke-width="1.6" stroke-dasharray="1 1"/>
<text x="225.7" y="738.9" dy="-0.04em" font-size="7.8" fill="#a0a0a0" text-anchor="middle" dominant-baseline="central">U5403</text>
<rect x="206.7" y="578.7" width="451" height="107.3" fill="#000" stroke="#b6b6b6" stroke-width="1.3" />
<line x1="206.7" y1="684" x2="657.7" y2="684" stroke="#bdbdbd" stroke-width="1"/>
<line x1="217.7" y1="631.4" x2="645.7" y2="631.4" stroke="#9a9a9a" stroke-width="2.6" stroke-dasharray="1 0.5"/>
<line x1="217" y1="683.6" x2="401.7" y2="683.6" stroke="#999" stroke-width="2.2" stroke-dasharray="1.1 0.6"/>
<line x1="413.3" y1="683.6" x2="644.7" y2="683.6" stroke="#999" stroke-width="2.2" stroke-dasharray="1.1 0.6"/>
<circle cx="211.7" cy="657.7" r="4" fill="none" stroke="#b0b0b0" stroke-width="1"/>
<circle cx="650.3" cy="657.7" r="5.2" fill="none" stroke="#b0b0b0" stroke-width="1"/>
<circle cx="215.7" cy="581.5" r="1.4" fill="#8a8a8a"/>
<circle cx="646.7" cy="581.5" r="1.4" fill="#8a8a8a"/>
<text x="430.7" y="634" dy="-0.04em" font-size="35" fill="#747474" text-anchor="middle" dominant-baseline="central">CNM9001</text>
<rect x="697.7" y="578.7" width="450.6" height="107.3" fill="#000" stroke="#b6b6b6" stroke-width="1.3" />
<line x1="697.7" y1="684" x2="1148.3" y2="684" stroke="#bdbdbd" stroke-width="1"/>
<line x1="709" y1="631.4" x2="1136.7" y2="631.4" stroke="#9a9a9a" stroke-width="2.6" stroke-dasharray="1 0.5"/>
<line x1="708" y1="683.6" x2="893" y2="683.6" stroke="#999" stroke-width="2.2" stroke-dasharray="1.1 0.6"/>
<line x1="906.3" y1="683.6" x2="1136" y2="683.6" stroke="#999" stroke-width="2.2" stroke-dasharray="1.1 0.6"/>
<circle cx="702.7" cy="657.7" r="4.3" fill="none" stroke="#b0b0b0" stroke-width="1"/>
<circle cx="1141.7" cy="657.7" r="5.3" fill="none" stroke="#b0b0b0" stroke-width="1"/>
<circle cx="706.7" cy="581.5" r="1.4" fill="#8a8a8a"/>
<circle cx="1137.3" cy="581.5" r="1.4" fill="#8a8a8a"/>
<text x="923.3" y="634" dy="-0.04em" font-size="35" fill="#747474" text-anchor="middle" dominant-baseline="central">CNM9000</text>
<rect x="529" y="753" width="167.3" height="25.3" fill="#000" stroke="#b6b6b6" stroke-width="1.4" />
<text x="612.7" y="766" dy="-0.04em" font-size="18.5" fill="#7a7a7a" text-anchor="middle" dominant-baseline="central">CON5000</text>
<line x1="545.7" y1="755.6" x2="679.7" y2="755.6" stroke="#989898" stroke-width="2" stroke-dasharray="1.1 0.6"/>
<circle cx="532" cy="775.5" r="1.2" fill="#8a8a8a"/>
<circle cx="693.3" cy="775.5" r="1.2" fill="#8a8a8a"/>
<rect x="776.7" y="726" width="113.6" height="36.3" fill="#000" stroke="#b6b6b6" stroke-width="1.4" />
<text x="833.7" y="744.8" dy="-0.04em" font-size="17.5" fill="#7a7a7a" text-anchor="middle" dominant-baseline="central">PCN8400</text>
<path d="M796 727 h3 l-1.5 2.4z" fill="#8a8a8a"/>
<path d="M804 727 h3 l-1.5 2.4z" fill="#8a8a8a"/>
<path d="M812 727 h3 l-1.5 2.4z" fill="#8a8a8a"/>
<path d="M820 727 h3 l-1.5 2.4z" fill="#8a8a8a"/>
<path d="M828 727 h3 l-1.5 2.4z" fill="#8a8a8a"/>
<path d="M836 727 h3 l-1.5 2.4z" fill="#8a8a8a"/>
<path d="M844 727 h3 l-1.5 2.4z" fill="#8a8a8a"/>
<path d="M852 727 h3 l-1.5 2.4z" fill="#8a8a8a"/>
<path d="M860 727 h3 l-1.5 2.4z" fill="#8a8a8a"/>
<path d="M868 727 h3 l-1.5 2.4z" fill="#8a8a8a"/>
<circle cx="779.5" cy="759.5" r="1.2" fill="#8a8a8a"/>
<circle cx="887.5" cy="759.5" r="1.2" fill="#8a8a8a"/>
<defs>
<pattern id="chk" width="4.4" height="4.4" patternUnits="userSpaceOnUse" x="605.5" y="262.7"><rect width="4.4" height="4.4" fill="#000"/><path d="M2.2 0.2 L4.2 2.2 L2.2 4.2 L0.2 2.2z" fill="#8e8e8e"/><path d="M0 0 L1 0 L0 1z M4.4 0 L3.4 0 L4.4 1z M0 4.4 L1 4.4 L0 3.4z M4.4 4.4 L3.4 4.4 L4.4 3.4z" fill="#777"/></pattern>
<pattern id="dots" width="6.4" height="5.3" patternUnits="userSpaceOnUse" x="618.4" y="275.1"><circle cx="3.2" cy="2.65" r="1.9" fill="#8c8c8c"/></pattern>
<pattern id="vst" width="6.4" height="3.2" patternUnits="userSpaceOnUse" x="618.4" y="275.1"><circle cx="3.2" cy="1.6" r="1.8" fill="#808080"/></pattern>
<pattern id="hst" width="3.2" height="5.3" patternUnits="userSpaceOnUse" x="618.4" y="275.1"><circle cx="1.6" cy="2.65" r="1.8" fill="#808080"/></pattern>
</defs>
<rect x="605.5" y="262.7" width="212.5" height="149" fill="#000" stroke="#cfcfcf" stroke-width="1.4"/>
<path d="M623.7 263.9 L799.8 263.9 L816.8 280.9 L816.8 393.5 L799.8 410.5 L623.7 410.5 L606.7 393.5 L606.7 280.9 Z M629.9 275.1 L793.6 275.1 L805.6 287.1 L805.6 387.3 L793.6 399.3 L629.9 399.3 L617.9 387.3 L617.9 287.1 Z" fill="url(#chk)" fill-rule="evenodd"/>
<circle cx="608.7" cy="265.9" r="1.5" fill="#8a8a8a"/>
<circle cx="613.5" cy="265.9" r="1.5" fill="#8a8a8a"/>
<circle cx="608.7" cy="270.7" r="1.5" fill="#8a8a8a"/>
<circle cx="618" cy="265.9" r="1.5" fill="#8a8a8a"/>
<circle cx="608.7" cy="275.2" r="1.5" fill="#8a8a8a"/>
<circle cx="613.5" cy="270.7" r="1.5" fill="#8a8a8a"/>
<circle cx="814.8" cy="265.9" r="1.5" fill="#8a8a8a"/>
<circle cx="810" cy="265.9" r="1.5" fill="#8a8a8a"/>
<circle cx="814.8" cy="270.7" r="1.5" fill="#8a8a8a"/>
<circle cx="805.5" cy="265.9" r="1.5" fill="#8a8a8a"/>
<circle cx="814.8" cy="275.2" r="1.5" fill="#8a8a8a"/>
<circle cx="810" cy="270.7" r="1.5" fill="#8a8a8a"/>
<circle cx="608.7" cy="408.5" r="1.5" fill="#8a8a8a"/>
<circle cx="613.5" cy="408.5" r="1.5" fill="#8a8a8a"/>
<circle cx="608.7" cy="403.7" r="1.5" fill="#8a8a8a"/>
<circle cx="618" cy="408.5" r="1.5" fill="#8a8a8a"/>
<circle cx="608.7" cy="399.2" r="1.5" fill="#8a8a8a"/>
<circle cx="613.5" cy="403.7" r="1.5" fill="#8a8a8a"/>
<circle cx="814.8" cy="408.5" r="1.5" fill="#8a8a8a"/>
<circle cx="810" cy="408.5" r="1.5" fill="#8a8a8a"/>
<circle cx="814.8" cy="403.7" r="1.5" fill="#8a8a8a"/>
<circle cx="805.5" cy="408.5" r="1.5" fill="#8a8a8a"/>
<circle cx="814.8" cy="399.2" r="1.5" fill="#8a8a8a"/>
<circle cx="810" cy="403.7" r="1.5" fill="#8a8a8a"/>
<clipPath id="ioc"><path d="M630.7 275.9 L792.8 275.9 L804.8 287.9 L804.8 386.5 L792.8 398.5 L630.7 398.5 L618.7 386.5 L618.7 287.9 Z"/></clipPath>
<g clip-path="url(#ioc)">
<rect x="617.9" y="275.1" width="187.7" height="124.2" fill="url(#dots)"/>
<rect x="634.9" y="275.1" width="153.7" height="13" fill="#000"/>
<rect x="634.9" y="386.3" width="153.7" height="13" fill="#000"/>
<rect x="617.9" y="290.1" width="14" height="94.2" fill="#000"/>
<rect x="791.6" y="290.1" width="14" height="94.2" fill="#000"/>
<rect x="634.9" y="275.9" width="153.7" height="11.4" fill="url(#vst)"/>
<rect x="634.9" y="387.1" width="153.7" height="11.4" fill="url(#vst)"/>
<rect x="618.7" y="290.1" width="12" height="94.2" fill="url(#hst)"/>
<rect x="792.8" y="290.1" width="12" height="94.2" fill="url(#hst)"/>
<line x1="641.9" y1="309.1" x2="651.9" y2="299.1" stroke="#000" stroke-width="3"/>
<line x1="630.9" y1="297.1" x2="639.9" y2="288.1" stroke="#000" stroke-width="2.6"/>
<line x1="781.6" y1="309.1" x2="771.6" y2="299.1" stroke="#000" stroke-width="3"/>
<line x1="792.6" y1="297.1" x2="783.6" y2="288.1" stroke="#000" stroke-width="2.6"/>
<line x1="641.9" y1="365.3" x2="651.9" y2="375.3" stroke="#000" stroke-width="3"/>
<line x1="630.9" y1="377.3" x2="639.9" y2="386.3" stroke="#000" stroke-width="2.6"/>
<line x1="781.6" y1="365.3" x2="771.6" y2="375.3" stroke="#000" stroke-width="3"/>
<line x1="792.6" y1="377.3" x2="783.6" y2="386.3" stroke="#000" stroke-width="2.6"/>
</g>
<rect x="657" y="316" width="109.5" height="43.5" fill="#000"/>
<rect x="661.2" y="320" width="101" height="35.6" fill="url(#dots)"/>
<text x="712.8" y="337" font-size="35" fill="#b0b0b0" fill-opacity="0.72" text-anchor="middle" dominant-baseline="central">UX9000</text>
</g>
<g stroke="#9a6f75" stroke-width="2.6"><line x1="661" y1="429.7" x2="721" y2="429.7"/><line x1="691" y1="400" x2="691" y2="459.8"/></g>
<rect x="1387" y="0" width="2" height="858" fill="#efefef"/>
<g opacity="0.999">
<polygon points="1191,858 1389,660 1389,719.5 1250.5,858" fill="#fff"/>
<polygon points="1196,858 1389,665 1389,714.8 1245.8,858" fill="#19598a"/>
<g transform="translate(1306.8,771.6) rotate(-45)" font-size="41.1" text-anchor="middle" stroke-width="0.9" stroke-linejoin="round">
<text x="-82.4" y="14.1" fill="#fff" stroke="#fff">H</text>
<text x="-53.2" y="14.1" fill="#a6cde8" stroke="#a6cde8">N</text>
<text x="-26.4" y="14.1" fill="#fff" stroke="#fff">F</text>
<rect x="-10.2" y="-14.1" width="4.5" height="28.3" fill="#a6cde8"/>
<rect x="-14.2" y="-14.1" width="12.6" height="3.7" fill="#a6cde8"/>
<rect x="-14.2" y="10.4" width="12.6" height="3.7" fill="#a6cde8"/>
<line x1="4.1" y1="14.1" x2="23.1" y2="-14.1" stroke="#a6cde8" stroke-width="4.5"/>
<line x1="3.8" y1="-13.6" x2="23.4" y2="13.6" stroke="#f21616" stroke-width="3.8"/>
<rect x="31.6" y="9.1" width="5" height="5" fill="#fff"/>
<text x="54.5" y="14.1" fill="#fff" stroke="#fff">V</text>
<text x="82.4" y="14.1" fill="#a6cde8" stroke="#a6cde8">N</text>
</g>
</g>
</svg>
</body></html>
